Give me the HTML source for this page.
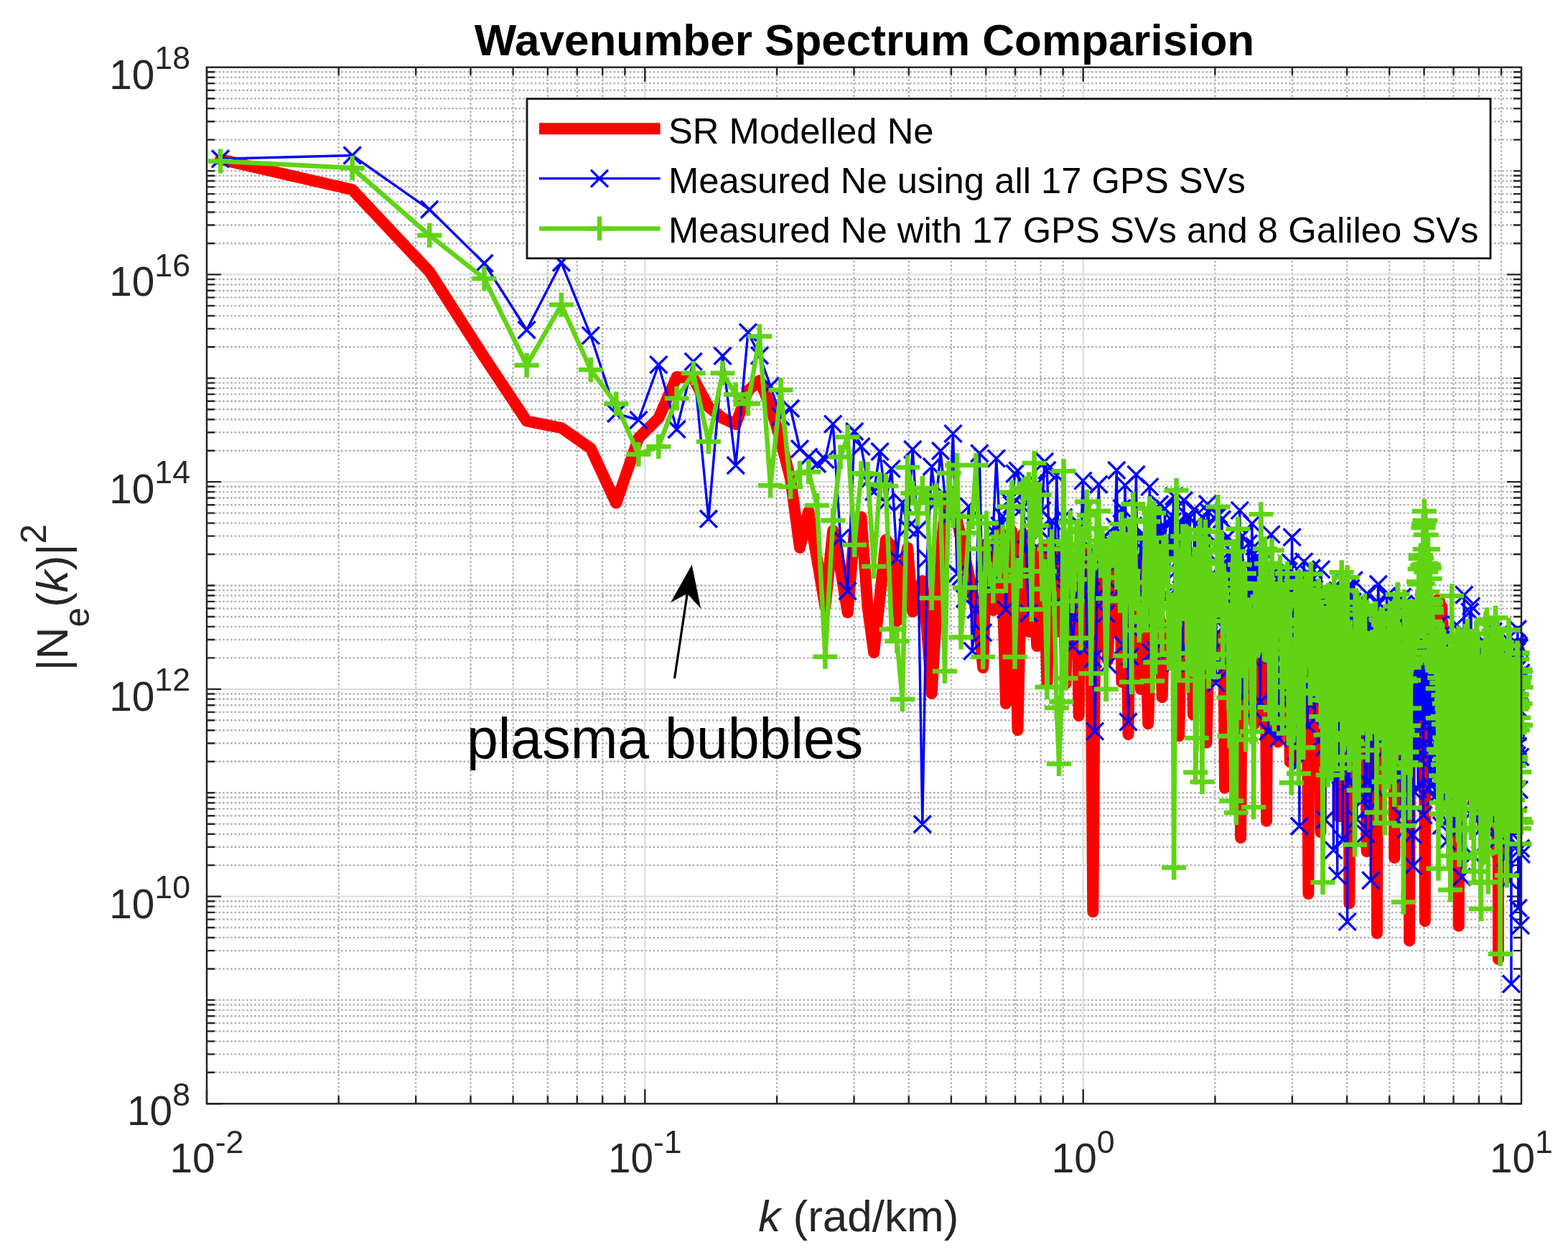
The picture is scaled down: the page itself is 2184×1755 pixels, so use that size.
<!DOCTYPE html>
<html><head><meta charset="utf-8"><title>Wavenumber Spectrum Comparision</title>
<style>html,body{margin:0;padding:0;background:#fff;width:2184px;height:1755px;overflow:hidden}svg text{white-space:pre}</style>
</head><body>
<svg width="2184" height="1755" viewBox="0 0 2184 1755" style="position:absolute;left:0;top:0">
<rect x="0" y="0" width="2184" height="1755" fill="#fff"/>
<path d="M471.7 93.7V1537.3M579.2 93.7V1537.3M655.5 93.7V1537.3M714.6 93.7V1537.3M762.9 93.7V1537.3M803.8 93.7V1537.3M839.2 93.7V1537.3M870.4 93.7V1537.3M1082.1 93.7V1537.3M1189.5 93.7V1537.3M1265.8 93.7V1537.3M1324.9 93.7V1537.3M1373.3 93.7V1537.3M1414.1 93.7V1537.3M1449.5 93.7V1537.3M1480.7 93.7V1537.3M1692.4 93.7V1537.3M1799.9 93.7V1537.3M1876.1 93.7V1537.3M1935.3 93.7V1537.3M1983.6 93.7V1537.3M2024.5 93.7V1537.3M2059.9 93.7V1537.3M2091.1 93.7V1537.3M288.0 1493.8H2119.0M288.0 1468.4H2119.0M288.0 1450.4H2119.0M288.0 1436.4H2119.0M288.0 1425.0H2119.0M288.0 1415.3H2119.0M288.0 1406.9H2119.0M288.0 1399.5H2119.0M288.0 1392.9H2119.0M288.0 1349.5H2119.0M288.0 1324.1H2119.0M288.0 1306.0H2119.0M288.0 1292.0H2119.0M288.0 1280.6H2119.0M288.0 1270.9H2119.0M288.0 1262.6H2119.0M288.0 1255.2H2119.0M288.0 1205.1H2119.0M288.0 1179.7H2119.0M288.0 1161.7H2119.0M288.0 1147.7H2119.0M288.0 1136.2H2119.0M288.0 1126.6H2119.0M288.0 1118.2H2119.0M288.0 1110.8H2119.0M288.0 1104.2H2119.0M288.0 1060.8H2119.0M288.0 1035.3H2119.0M288.0 1017.3H2119.0M288.0 1003.3H2119.0M288.0 991.9H2119.0M288.0 982.2H2119.0M288.0 973.8H2119.0M288.0 966.5H2119.0M288.0 916.4H2119.0M288.0 891.0H2119.0M288.0 872.9H2119.0M288.0 859.0H2119.0M288.0 847.5H2119.0M288.0 837.9H2119.0M288.0 829.5H2119.0M288.0 822.1H2119.0M288.0 815.5H2119.0M288.0 772.0H2119.0M288.0 746.6H2119.0M288.0 728.6H2119.0M288.0 714.6H2119.0M288.0 703.2H2119.0M288.0 693.5H2119.0M288.0 685.1H2119.0M288.0 677.7H2119.0M288.0 627.7H2119.0M288.0 602.3H2119.0M288.0 584.2H2119.0M288.0 570.2H2119.0M288.0 558.8H2119.0M288.0 549.1H2119.0M288.0 540.8H2119.0M288.0 533.4H2119.0M288.0 526.8H2119.0M288.0 483.3H2119.0M288.0 457.9H2119.0M288.0 439.9H2119.0M288.0 425.9H2119.0M288.0 414.4H2119.0M288.0 404.8H2119.0M288.0 396.4H2119.0M288.0 389.0H2119.0M288.0 339.0H2119.0M288.0 313.5H2119.0M288.0 295.5H2119.0M288.0 281.5H2119.0M288.0 270.1H2119.0M288.0 260.4H2119.0M288.0 252.0H2119.0M288.0 244.7H2119.0M288.0 238.1H2119.0M288.0 194.6H2119.0M288.0 169.2H2119.0M288.0 151.1H2119.0M288.0 137.2H2119.0M288.0 125.7H2119.0M288.0 116.1H2119.0M288.0 107.7H2119.0M288.0 100.3H2119.0" stroke="#b4b4b4" stroke-width="2.4" stroke-dasharray="2.8 2.7" fill="none"/>
<path d="M898.3 93.7V1537.3M1508.7 93.7V1537.3M288.0 1248.6H2119.0M288.0 959.9H2119.0M288.0 671.1H2119.0M288.0 382.4H2119.0" stroke="#dedede" stroke-width="2.4" fill="none"/>
<path d="M288.0 1537.3v-20M288.0 93.7v20M471.7 1537.3v-11M471.7 93.7v11M579.2 1537.3v-11M579.2 93.7v11M655.5 1537.3v-11M655.5 93.7v11M714.6 1537.3v-11M714.6 93.7v11M762.9 1537.3v-11M762.9 93.7v11M803.8 1537.3v-11M803.8 93.7v11M839.2 1537.3v-11M839.2 93.7v11M870.4 1537.3v-11M870.4 93.7v11M898.3 1537.3v-20M898.3 93.7v20M1082.1 1537.3v-11M1082.1 93.7v11M1189.5 1537.3v-11M1189.5 93.7v11M1265.8 1537.3v-11M1265.8 93.7v11M1324.9 1537.3v-11M1324.9 93.7v11M1373.3 1537.3v-11M1373.3 93.7v11M1414.1 1537.3v-11M1414.1 93.7v11M1449.5 1537.3v-11M1449.5 93.7v11M1480.7 1537.3v-11M1480.7 93.7v11M1508.7 1537.3v-20M1508.7 93.7v20M1692.4 1537.3v-11M1692.4 93.7v11M1799.9 1537.3v-11M1799.9 93.7v11M1876.1 1537.3v-11M1876.1 93.7v11M1935.3 1537.3v-11M1935.3 93.7v11M1983.6 1537.3v-11M1983.6 93.7v11M2024.5 1537.3v-11M2024.5 93.7v11M2059.9 1537.3v-11M2059.9 93.7v11M2091.1 1537.3v-11M2091.1 93.7v11M288.0 1537.3h20M2119.0 1537.3h-20M288.0 1493.8h11M2119.0 1493.8h-11M288.0 1468.4h11M2119.0 1468.4h-11M288.0 1450.4h11M2119.0 1450.4h-11M288.0 1436.4h11M2119.0 1436.4h-11M288.0 1425.0h11M2119.0 1425.0h-11M288.0 1415.3h11M2119.0 1415.3h-11M288.0 1406.9h11M2119.0 1406.9h-11M288.0 1399.5h11M2119.0 1399.5h-11M288.0 1392.9h11M2119.0 1392.9h-11M288.0 1349.5h11M2119.0 1349.5h-11M288.0 1324.1h11M2119.0 1324.1h-11M288.0 1306.0h11M2119.0 1306.0h-11M288.0 1292.0h11M2119.0 1292.0h-11M288.0 1280.6h11M2119.0 1280.6h-11M288.0 1270.9h11M2119.0 1270.9h-11M288.0 1262.6h11M2119.0 1262.6h-11M288.0 1255.2h11M2119.0 1255.2h-11M288.0 1248.6h20M2119.0 1248.6h-20M288.0 1205.1h11M2119.0 1205.1h-11M288.0 1179.7h11M2119.0 1179.7h-11M288.0 1161.7h11M2119.0 1161.7h-11M288.0 1147.7h11M2119.0 1147.7h-11M288.0 1136.2h11M2119.0 1136.2h-11M288.0 1126.6h11M2119.0 1126.6h-11M288.0 1118.2h11M2119.0 1118.2h-11M288.0 1110.8h11M2119.0 1110.8h-11M288.0 1104.2h11M2119.0 1104.2h-11M288.0 1060.8h11M2119.0 1060.8h-11M288.0 1035.3h11M2119.0 1035.3h-11M288.0 1017.3h11M2119.0 1017.3h-11M288.0 1003.3h11M2119.0 1003.3h-11M288.0 991.9h11M2119.0 991.9h-11M288.0 982.2h11M2119.0 982.2h-11M288.0 973.8h11M2119.0 973.8h-11M288.0 966.5h11M2119.0 966.5h-11M288.0 959.9h20M2119.0 959.9h-20M288.0 916.4h11M2119.0 916.4h-11M288.0 891.0h11M2119.0 891.0h-11M288.0 872.9h11M2119.0 872.9h-11M288.0 859.0h11M2119.0 859.0h-11M288.0 847.5h11M2119.0 847.5h-11M288.0 837.9h11M2119.0 837.9h-11M288.0 829.5h11M2119.0 829.5h-11M288.0 822.1h11M2119.0 822.1h-11M288.0 815.5h11M2119.0 815.5h-11M288.0 772.0h11M2119.0 772.0h-11M288.0 746.6h11M2119.0 746.6h-11M288.0 728.6h11M2119.0 728.6h-11M288.0 714.6h11M2119.0 714.6h-11M288.0 703.2h11M2119.0 703.2h-11M288.0 693.5h11M2119.0 693.5h-11M288.0 685.1h11M2119.0 685.1h-11M288.0 677.7h11M2119.0 677.7h-11M288.0 671.1h20M2119.0 671.1h-20M288.0 627.7h11M2119.0 627.7h-11M288.0 602.3h11M2119.0 602.3h-11M288.0 584.2h11M2119.0 584.2h-11M288.0 570.2h11M2119.0 570.2h-11M288.0 558.8h11M2119.0 558.8h-11M288.0 549.1h11M2119.0 549.1h-11M288.0 540.8h11M2119.0 540.8h-11M288.0 533.4h11M2119.0 533.4h-11M288.0 526.8h11M2119.0 526.8h-11M288.0 483.3h11M2119.0 483.3h-11M288.0 457.9h11M2119.0 457.9h-11M288.0 439.9h11M2119.0 439.9h-11M288.0 425.9h11M2119.0 425.9h-11M288.0 414.4h11M2119.0 414.4h-11M288.0 404.8h11M2119.0 404.8h-11M288.0 396.4h11M2119.0 396.4h-11M288.0 389.0h11M2119.0 389.0h-11M288.0 382.4h20M2119.0 382.4h-20M288.0 339.0h11M2119.0 339.0h-11M288.0 313.5h11M2119.0 313.5h-11M288.0 295.5h11M2119.0 295.5h-11M288.0 281.5h11M2119.0 281.5h-11M288.0 270.1h11M2119.0 270.1h-11M288.0 260.4h11M2119.0 260.4h-11M288.0 252.0h11M2119.0 252.0h-11M288.0 244.7h11M2119.0 244.7h-11M288.0 238.1h11M2119.0 238.1h-11M288.0 194.6h11M2119.0 194.6h-11M288.0 169.2h11M2119.0 169.2h-11M288.0 151.1h11M2119.0 151.1h-11M288.0 137.2h11M2119.0 137.2h-11M288.0 125.7h11M2119.0 125.7h-11M288.0 116.1h11M2119.0 116.1h-11M288.0 107.7h11M2119.0 107.7h-11M288.0 100.3h11M2119.0 100.3h-11" stroke="#262626" stroke-width="2.4" fill="none"/>
<defs><clipPath id="ax"><rect x="288" y="93.7" width="1831" height="1443.6"/></clipPath></defs>
<g clip-path="url(#ax)">
<polyline points="307.0,222.0 490.7,264.2 598.2,378.5 674.5,497.6 733.6,586.5 781.9,596.0 822.8,624.6 858.2,700.8 889.4,610.0 917.3,582.4 942.6,525.0 965.7,527.0 986.9,566.8 1006.5,582.4 1024.8,591.0 1041.9,544.0 1058.0,530.0 1073.1,566.0 1087.5,614.0 1101.1,667.0 1114.0,763.0 1126.3,712.0 1138.1,779.0 1149.4,845.0 1160.2,739.0 1170.6,792.0 1180.6,853.0 1190.2,739.0 1199.5,720.0 1208.5,845.0 1217.2,909.0 1225.6,832.0 1233.8,752.0 1241.7,760.0 1249.4,865.0 1256.9,800.0 1264.1,763.0 1271.2,852.0 1278.1,830.0 1284.8,809.0 1291.3,880.0 1297.7,966.0 1304.0,860.0 1310.1,770.0 1316.0,715.0 1321.8,690.0 1327.5,705.0 1333.1,725.0 1338.6,750.0 1343.9,775.0 1349.2,800.0 1354.3,825.0 1359.4,850.0 1364.3,880.0 1369.2,930.0 1374.0,757.3 1378.7,769.2 1383.3,850.0 1387.8,779.2 1392.3,736.3 1396.6,818.3 1401.0,980.0 1405.2,826.3 1409.4,739.9 1413.5,835.3 1417.5,1017.0 1421.5,833.1 1425.4,743.5 1429.3,783.2 1433.1,880.0 1436.9,782.9 1440.6,770.3 1444.2,900.0 1447.9,797.4 1451.4,762.1 1454.9,813.7 1458.4,952.0 1461.8,805.5 1465.2,753.4 1468.5,795.5 1471.8,880.0 1475.1,802.8 1478.3,767.0 1481.4,818.0 1484.6,952.0 1487.7,783.1 1490.8,792.2 1493.8,900.0 1496.8,778.1 1499.7,805.7 1502.7,997.0 1505.6,801.2 1508.4,787.7 1511.3,880.0 1514.1,802.2 1516.8,765.3 1519.6,900.0 1522.3,1270.0 1525.0,900.0 1527.7,770.7 1530.3,803.6 1532.9,900.0 1535.5,808.5 1538.1,793.2 1540.6,826.5 1543.1,920.0 1545.6,824.8 1548.1,780.8 1550.5,819.3 1552.9,880.0 1555.3,808.6 1557.7,791.0 1560.1,825.0 1562.4,950.0 1564.7,839.5 1567.0,804.4 1569.3,863.4 1571.5,1023.0 1573.8,851.1 1576.0,796.1 1578.2,830.1 1580.4,930.0 1582.5,844.0 1584.7,782.1 1586.8,834.7 1588.9,960.0 1591.0,837.6 1593.1,795.0 1595.2,849.5 1597.2,940.0 1599.2,1008.1 1601.3,934.8 1603.3,889.3 1605.2,879.8 1607.2,866.3 1609.2,871.7 1611.1,888.9 1613.0,872.3 1615.0,861.3 1616.9,911.5 1618.7,971.3 1620.6,901.5 1622.5,881.8 1624.3,870.4 1626.2,895.4 1628.0,875.3 1629.8,881.7 1631.6,882.3 1633.4,861.1 1635.1,889.6 1636.9,871.0 1638.6,863.3 1640.4,916.7 1642.1,1025.3 1643.8,951.6 1645.5,899.2 1647.2,894.3 1648.9,875.1 1650.6,884.1 1652.2,869.4 1653.9,876.8 1655.5,902.8 1657.2,887.3 1658.8,877.5 1660.4,909.8 1662.0,995.6 1663.6,946.1 1665.2,872.0 1666.8,870.3 1668.3,873.7 1669.9,899.8 1671.4,907.4 1673.0,874.3 1674.5,892.0 1676.0,871.5 1677.5,899.5 1679.0,941.9 1680.5,1034.6 1682.0,972.2 1683.5,913.4 1684.9,899.4 1686.4,878.9 1687.8,887.4 1689.3,900.3 1690.7,910.4 1692.2,892.8 1693.6,890.8 1695.0,901.0 1696.4,911.3 1697.8,896.5 1699.2,892.3 1700.6,916.2 1701.9,911.3 1703.3,885.3 1704.7,935.1 1706.0,1097.7 1707.4,956.7 1708.7,897.5 1710.1,887.4 1711.4,894.8 1712.7,908.9 1714.0,914.6 1715.3,895.4 1716.6,904.1 1717.9,912.7 1719.2,908.0 1720.5,907.1 1721.8,916.7 1723.1,922.4 1724.3,920.9 1725.6,896.1 1726.8,966.6 1728.1,1167.1 1729.3,985.3 1730.6,918.8 1731.8,899.7 1733.0,917.2 1734.2,911.4 1735.4,927.8 1736.7,893.2 1737.9,921.9 1739.1,898.9 1740.2,900.0 1741.4,905.3 1742.6,909.5 1743.8,896.7 1745.0,908.4 1746.1,930.1 1747.3,1008.5 1748.4,947.5 1749.6,913.7 1750.7,907.9 1751.9,912.4 1753.0,900.3 1754.1,902.1 1755.3,904.3 1756.4,934.0 1757.5,914.4 1758.6,922.9 1759.7,903.0 1760.8,916.0 1761.9,913.1 1763.0,976.2 1764.1,1143.7 1765.2,978.4 1766.3,906.5 1767.3,926.7 1768.4,927.2 1769.5,932.5 1770.5,911.5 1771.6,919.1 1772.7,927.7 1773.7,921.4 1774.7,933.7 1775.8,920.2 1776.8,915.6 1777.9,918.3 1778.9,975.2 1779.9,1033.6 1780.9,943.9 1782.0,903.4 1783.0,939.2 1784.0,921.4 1785.0,918.7 1786.0,908.7 1787.0,923.0 1788.0,929.8 1789.0,908.6 1790.0,934.0 1790.9,916.2 1791.9,932.9 1792.9,936.6 1793.9,943.4 1794.8,912.0 1795.8,963.4 1796.8,1061.4 1797.7,971.0 1798.7,939.0 1799.6,924.0 1800.6,924.2 1801.5,940.7 1802.5,912.2 1803.4,912.0 1804.3,911.6 1805.3,928.6 1806.2,916.9 1807.1,923.1 1808.0,928.8 1809.0,930.5 1809.9,925.2 1810.8,915.3 1811.7,942.8 1812.6,945.0 1813.5,933.2 1814.4,922.4 1815.3,951.1 1816.2,921.8 1817.1,935.3 1818.0,934.0 1818.9,912.6 1819.7,931.0 1820.6,943.7 1821.5,1071.8 1822.4,1245.0 1823.2,1008.3 1824.1,922.2 1825.0,941.8 1825.8,915.3 1826.7,942.1 1827.6,936.1 1828.4,930.3 1829.3,932.0 1830.1,934.6 1831.0,932.5 1831.8,942.5 1832.6,920.3 1833.5,951.6 1834.3,944.5 1835.1,927.1 1836.0,953.3 1836.8,952.5 1837.6,936.1 1838.4,1003.3 1839.3,1159.1 1840.1,1053.2 1840.9,918.8 1841.7,956.9 1842.5,957.6 1843.3,922.6 1844.1,957.3 1844.9,931.1 1845.7,933.7 1846.5,958.5 1847.3,951.8 1848.1,948.8 1848.9,930.3 1849.7,950.5 1850.5,923.0 1851.3,932.2 1852.0,931.8 1852.8,924.4 1853.6,941.1 1854.4,923.9 1855.1,962.1 1855.9,942.5 1856.7,954.1 1857.4,944.6 1858.2,928.6 1859.0,941.9 1859.7,924.4 1860.5,936.3 1861.2,949.9 1862.0,932.0 1862.7,961.6 1863.5,950.6 1864.2,981.8 1865.0,1137.4 1865.7,1014.0 1866.5,961.9 1867.2,936.5 1867.9,931.3 1868.7,937.8 1869.4,946.3 1870.1,942.9 1870.8,937.1 1871.6,946.2 1872.3,967.7 1873.0,953.3 1873.7,931.3 1874.5,934.4 1875.2,940.6 1875.9,966.4 1876.6,931.6 1877.3,955.2 1878.0,945.6 1878.7,1038.1 1879.4,1258.4 1880.1,1088.3 1880.8,960.5 1881.5,961.2 1882.2,939.2 1882.9,938.4 1883.6,938.5 1884.3,939.9 1885.0,939.8 1885.7,952.2 1886.4,944.1 1887.0,956.4 1887.7,970.6 1888.4,963.6 1889.1,935.7 1889.8,970.0 1890.4,947.9 1891.1,939.6 1891.8,942.5 1892.5,935.1 1893.1,971.7 1893.8,950.2 1894.5,954.8 1895.1,946.2 1895.8,969.8 1896.4,968.0 1897.1,953.2 1897.8,934.1 1898.4,960.6 1899.1,947.8 1899.7,940.1 1900.4,953.2 1901.0,964.0 1901.7,961.4 1902.3,939.1 1903.0,1083.5 1903.6,1186.0 1904.2,1043.1 1904.9,972.0 1905.5,952.7 1906.2,972.3 1906.8,969.9 1907.4,937.8 1908.1,971.9 1908.7,963.8 1909.3,960.0 1909.9,937.0 1910.6,971.6 1911.2,952.9 1911.8,939.8 1912.4,966.9 1913.1,952.3 1913.7,950.9 1914.3,964.8 1914.9,939.6 1915.5,939.4 1916.1,977.3 1916.7,973.3 1917.4,1133.7 1918.0,1300.0 1918.6,1090.0 1919.2,954.6 1919.8,946.5 1920.4,940.6 1921.0,971.2 1921.6,949.7 1922.2,969.7 1922.8,942.2 1923.4,949.8 1924.0,957.3 1924.6,955.3 1925.2,948.7 1925.8,971.6 1926.3,943.5 1926.9,965.3 1927.5,963.4 1928.1,961.9 1928.7,948.5 1929.3,967.3 1929.9,970.2 1930.4,964.3 1931.0,965.0 1931.6,963.7 1932.2,959.4 1932.7,965.2 1933.3,962.9 1933.9,946.4 1934.5,967.6 1935.0,976.9 1935.6,947.3 1936.2,944.1 1936.7,955.8 1937.3,954.1 1937.9,949.5 1938.4,954.6 1939.0,960.6 1939.6,952.6 1940.1,965.1 1940.7,960.3 1941.2,959.9 1941.8,1016.7 1942.3,1194.9 1942.9,1077.8 1943.4,969.4 1944.0,967.0 1944.6,957.3 1945.1,984.9 1945.6,974.4 1946.2,978.5 1946.7,967.7 1947.3,970.2 1947.8,973.3 1948.4,957.0 1948.9,956.1 1949.5,976.7 1950.0,958.7 1950.5,947.3 1951.1,964.8 1951.6,969.0 1952.1,982.7 1952.7,952.8 1953.2,954.2 1953.7,947.7 1954.3,961.3 1954.8,952.4 1955.3,970.3 1955.9,960.8 1956.4,951.2 1956.9,976.8 1957.4,978.1 1958.0,984.3 1958.5,962.3 1959.0,969.9 1959.5,973.9 1960.0,983.5 1960.6,986.3 1961.1,962.0 1961.6,957.4 1962.1,959.9 1962.6,1069.6 1963.1,1310.4 1963.6,1140.8 1964.2,974.2 1964.7,954.3 1965.2,974.6 1965.7,976.2 1966.2,969.6 1966.7,979.4 1967.2,952.9 1967.7,977.8 1968.2,952.6 1968.7,984.6 1969.2,971.9 1969.7,984.3 1970.2,956.6 1970.7,958.9 1971.2,984.4 1971.7,954.7 1972.2,964.1 1972.7,982.6 1973.2,985.6 1973.7,957.2 1974.2,954.3 1974.7,976.9 1975.2,960.7 1975.6,963.8 1976.1,954.3 1976.6,966.4 1977.1,984.9 1977.6,975.5 1978.1,953.8 1978.6,959.7 1979.0,977.5 1979.5,984.8 1980.0,986.0 1980.5,979.0 1981.0,958.9 1981.5,987.3 1981.9,980.3 1982.4,986.5 1982.9,972.6 1983.4,988.5 1983.8,986.0 1984.3,1073.4 1984.8,1283.2 1985.3,1051.4 1985.7,979.2 1986.2,962.7 1986.7,968.3 1987.1,963.7 1987.6,970.4 1988.1,969.0 1988.5,983.0 1989.0,979.4 1989.5,962.0 1989.9,981.4 1990.4,985.5 1990.9,973.6 1991.3,957.0 1991.8,987.5 1992.2,984.7 1992.7,986.3 1993.2,981.4 1993.6,961.9 1994.1,969.9 1994.5,958.1 1995.0,992.1 1995.4,987.9 1995.9,852.7 1996.3,857.7 1996.8,871.3 1997.2,845.2 1997.7,858.6 1998.1,849.4 1998.6,865.3 1999.0,856.7 1999.5,843.1 1999.9,855.6 2000.4,844.7 2000.8,837.0 2001.3,839.5 2001.7,848.7 2002.2,835.6 2002.6,865.9 2003.0,867.1 2003.5,835.8 2003.9,856.0 2004.4,852.3 2004.8,851.0 2005.2,837.9 2005.7,872.6 2006.1,846.9 2006.5,872.3 2007.0,851.1 2007.4,843.4 2007.8,845.0 2008.3,844.9 2008.7,867.2 2009.1,868.2 2009.6,867.3 2010.0,992.3 2010.4,987.2 2010.9,981.9 2011.3,987.9 2011.7,960.6 2012.1,988.8 2012.6,981.1 2013.0,994.5 2013.4,967.8 2013.8,976.7 2014.3,999.8 2014.7,973.5 2015.1,988.5 2015.5,998.0 2015.9,982.9 2016.4,981.9 2016.8,982.2 2017.2,971.7 2017.6,982.2 2018.0,990.5 2018.5,981.8 2018.9,974.9 2019.3,977.9 2019.7,1004.2 2020.1,1091.4 2020.5,1000.3 2020.9,999.6 2021.4,977.6 2021.8,991.6 2022.2,989.4 2022.6,973.7 2023.0,975.1 2023.4,988.9 2023.8,982.9 2024.2,989.3 2024.6,986.3 2025.0,981.4 2025.4,965.9 2025.8,984.7 2026.2,1001.6 2026.7,993.4 2027.1,974.5 2027.5,984.2 2027.9,968.1 2028.3,991.1 2028.7,979.3 2029.1,987.8 2029.5,1003.3 2029.9,988.9 2030.3,996.6 2030.7,964.8 2031.1,977.5 2031.4,1113.8 2031.8,1289.8 2032.2,1065.4 2032.6,987.0 2033.0,978.9 2033.4,984.1 2033.8,968.8 2034.2,994.2 2034.6,975.9 2035.0,978.9 2035.4,972.2 2035.8,975.9 2036.2,971.8 2036.6,1005.7 2036.9,998.5 2037.3,996.3 2037.7,969.7 2038.1,976.5 2038.5,1003.2 2038.9,1002.3 2039.3,973.8 2039.6,990.4 2040.0,993.7 2040.4,983.5 2040.8,980.2 2041.2,977.3 2041.6,995.6 2041.9,980.3 2042.3,996.2 2042.7,968.4 2043.1,988.9 2043.5,1002.9 2043.8,972.7 2044.2,967.9 2044.6,997.0 2045.0,975.6 2045.3,990.6 2045.7,968.8 2046.1,979.9 2046.5,986.5 2046.8,989.0 2047.2,981.3 2047.6,994.8 2048.0,998.6 2048.3,973.0 2048.7,1005.3 2049.1,983.2 2049.4,993.2 2049.8,1005.8 2050.2,996.7 2050.6,986.3 2050.9,999.6 2051.3,982.5 2051.7,970.6 2052.0,1047.3 2052.4,1118.1 2052.8,1032.2 2053.1,1003.8 2053.5,971.1 2053.9,998.7 2054.2,988.0 2054.6,971.6 2054.9,986.4 2055.3,1002.7 2055.7,1005.9 2056.0,996.0 2056.4,999.0 2056.7,1006.1 2057.1,1008.3 2057.5,991.4 2057.8,972.3 2058.2,997.2 2058.5,973.0 2058.9,995.5 2059.3,975.1 2059.6,997.2 2060.0,1001.0 2060.3,1008.4 2060.7,989.5 2061.0,1010.3 2061.4,980.0 2061.7,994.6 2062.1,981.3 2062.4,986.6 2062.8,982.1 2063.2,1011.7 2063.5,1010.2 2063.9,995.2 2064.2,975.4 2064.6,981.1 2064.9,1032.5 2065.3,1156.1 2065.6,1041.2 2066.0,990.6 2066.3,988.5 2066.6,990.9 2067.0,1005.1 2067.3,990.2 2067.7,994.0 2068.0,992.4 2068.4,983.6 2068.7,997.1 2069.1,980.3 2069.4,977.9 2069.7,996.8 2070.1,1001.6 2070.4,978.1 2070.8,993.9 2071.1,978.7 2071.5,987.7 2071.8,1000.4 2072.1,1000.8 2072.5,991.1 2072.8,1011.9 2073.2,984.1 2073.5,1011.1 2073.8,998.6 2074.2,1012.4 2074.5,988.1 2074.8,1008.5 2075.2,988.5 2075.5,1002.9 2075.9,1004.8 2076.2,1008.2 2076.5,1000.3 2076.9,992.7 2077.2,975.4 2077.5,1004.3 2077.9,998.5 2078.2,980.0 2078.5,1003.5 2078.8,991.0 2079.2,1002.1 2079.5,994.0 2079.8,1007.9 2080.2,1005.1 2080.5,1011.5 2080.8,1011.5 2081.2,976.3 2081.5,1000.9 2081.8,1015.7 2082.1,977.4 2082.5,1007.0 2082.8,987.7 2083.1,999.1 2083.4,980.0 2083.8,1002.9 2084.1,1011.1 2084.4,1007.0 2084.7,1088.3 2085.1,1191.0 2085.4,1102.7 2085.7,1000.0 2086.0,986.2 2086.4,998.6 2086.7,1010.3 2087.0,1336.0 2087.3,994.3 2087.6,1010.5 2088.0,980.1 2088.3,980.0 2088.6,991.8 2088.9,1012.0 2089.2,982.8 2089.6,1000.2 2089.9,1005.2 2090.2,980.5 2090.5,1012.2 2090.8,1009.9 2091.2,979.6 2091.5,997.3 2091.8,995.5 2092.1,1008.6 2092.4,980.0 2092.7,992.7 2093.0,981.0 2093.4,999.6 2093.7,982.0 2094.0,1011.4 2094.3,992.3 2094.6,979.5 2094.9,991.3 2095.2,1000.9 2095.5,987.9 2095.9,985.2 2096.2,1010.7 2096.5,1002.6 2096.8,981.2 2097.1,1007.5 2097.4,983.3 2097.7,1011.8 2098.0,1013.2 2098.3,991.3 2098.6,980.7 2098.9,1001.9 2099.2,996.1 2099.6,981.6 2099.9,1018.5 2100.2,984.5 2100.5,998.8 2100.8,990.9 2101.1,1005.5 2101.4,989.9 2101.7,983.2 2102.0,1001.3 2102.3,991.1 2102.6,1007.4 2102.9,992.9 2103.2,1017.2 2103.5,1004.4 2103.8,1001.4 2104.1,1000.6 2104.4,1004.4 2104.7,1003.5 2105.0,1002.8 2105.3,989.4 2105.6,1012.8 2105.9,997.3 2106.2,991.5 2106.5,1006.5 2106.8,1062.5 2107.1,1140.9 2107.4,1046.9 2107.7,1010.6 2108.0,990.4 2108.3,984.1 2108.6,991.2 2108.9,1012.9 2109.2,987.5 2109.5,1008.7 2109.8,1005.5 2110.1,1006.2 2110.4,996.1 2110.7,999.5 2111.0,1016.1 2111.2,998.9 2111.5,985.6 2111.8,1001.8 2112.1,986.0 2112.4,989.4 2112.7,992.8 2113.0,1003.8 2113.3,1005.3 2113.6,1000.0 2113.9,985.5 2114.2,988.9 2114.5,1007.3 2114.7,984.3 2115.0,1014.8 2115.3,1007.9 2115.6,1006.3 2115.9,1020.2 2116.2,989.3 2116.5,1008.6 2116.8,1000.9 2117.0,1015.2 2117.3,1008.7 2117.6,1007.2 2117.9,1001.3 2118.2,1020.2 2118.5,1007.2 2118.8,993.7" fill="none" stroke="#ff0000" stroke-width="16" stroke-linejoin="round" stroke-linecap="round"/>
<polyline points="307.0,221.3 490.7,216.5 598.2,291.8 674.5,366.7 733.6,459.5 781.9,365.8 822.8,467.4 858.2,576.0 889.4,585.0 917.3,508.0 942.6,598.0 965.7,503.6 986.9,722.7 1006.5,495.8 1024.8,648.3 1041.9,463.0 1058.0,495.3 1073.1,537.7 1087.5,580.2 1101.1,569.0 1114.0,625.2 1126.3,636.5 1138.1,646.0 1149.4,640.0 1160.2,590.6 1170.6,749.4 1180.6,823.3 1190.2,601.0 1199.5,622.0 1208.5,670.0 1217.2,685.0 1225.6,629.0 1233.8,700.0 1241.7,653.0 1249.4,778.0 1256.9,700.0 1264.1,735.0 1271.2,626.0 1278.1,738.0 1284.8,1148.0 1291.3,778.0 1297.7,650.0 1304.0,700.0 1310.1,628.0 1316.0,690.0 1321.8,720.0 1327.5,604.0 1333.1,799.0 1338.6,803.3 1343.9,834.0 1349.2,705.4 1354.3,906.8 1359.4,849.0 1364.3,631.5 1369.2,881.3 1374.0,821.1 1378.7,794.5 1383.3,740.0 1387.8,638.6 1392.3,732.2 1396.6,719.1 1401.0,848.9 1405.2,697.3 1409.4,703.0 1413.5,659.8 1417.5,655.6 1421.5,689.4 1425.4,706.4 1429.3,765.2 1433.1,854.0 1436.9,754.1 1440.6,732.7 1444.2,673.9 1447.9,737.7 1451.4,711.3 1454.9,643.0 1458.4,655.0 1461.8,774.6 1465.2,725.7 1468.5,801.0 1471.8,662.0 1475.1,777.9 1478.3,798.1 1481.4,720.6 1484.6,826.4 1487.7,767.2 1490.8,854.9 1493.8,900.0 1496.8,860.0 1499.7,798.0 1502.7,729.7 1505.6,749.9 1508.4,669.6 1511.3,776.9 1514.1,900.0 1516.8,813.1 1519.6,823.7 1522.3,917.7 1525.0,1018.6 1527.7,830.5 1530.3,674.7 1532.9,779.8 1535.5,749.7 1538.1,835.9 1540.6,854.8 1543.1,925.7 1545.6,754.6 1548.1,777.3 1550.5,790.3 1552.9,733.9 1555.3,655.0 1557.7,823.6 1560.1,747.1 1562.4,708.0 1564.7,898.8 1567.0,675.9 1569.3,779.0 1571.5,1005.6 1573.8,914.7 1576.0,877.4 1578.2,732.2 1580.4,754.2 1582.5,661.0 1584.7,845.9 1586.8,826.2 1588.9,746.7 1591.0,776.9 1593.1,744.8 1595.2,835.6 1597.2,771.0 1599.2,864.7 1601.3,678.1 1603.3,909.0 1605.2,865.8 1607.2,748.3 1609.2,905.2 1611.1,722.9 1613.0,749.5 1615.0,702.5 1616.9,739.8 1618.7,767.1 1620.6,830.1 1622.5,708.5 1624.3,809.4 1626.2,763.0 1628.0,830.2 1629.8,722.3 1631.6,772.0 1633.4,726.1 1635.1,691.3 1636.9,923.8 1638.6,735.1 1640.4,781.8 1642.1,726.8 1643.8,759.3 1645.5,821.5 1647.2,904.5 1648.9,697.0 1650.6,795.5 1652.2,826.1 1653.9,718.9 1655.5,851.7 1657.2,720.9 1658.8,777.5 1660.4,916.8 1662.0,909.1 1663.6,709.4 1665.2,770.6 1666.8,876.2 1668.3,798.9 1669.9,912.2 1671.4,872.1 1673.0,901.3 1674.5,719.9 1676.0,783.9 1677.5,922.6 1679.0,906.2 1680.5,875.7 1682.0,702.1 1683.5,713.5 1684.9,772.6 1686.4,910.2 1687.8,850.9 1689.3,798.7 1690.7,861.3 1692.2,862.4 1693.6,951.4 1695.0,716.9 1696.4,758.1 1697.8,717.4 1699.2,833.4 1700.6,834.5 1701.9,723.5 1703.3,825.1 1704.7,872.3 1706.0,782.2 1707.4,927.2 1708.7,833.9 1710.1,747.8 1711.4,813.1 1712.7,930.7 1714.0,767.4 1715.3,854.1 1716.6,776.9 1717.9,886.3 1719.2,817.3 1720.5,790.6 1721.8,805.4 1723.1,898.6 1724.3,915.7 1725.6,846.8 1726.8,710.9 1728.1,939.8 1729.3,838.0 1730.6,746.5 1731.8,971.3 1733.0,825.7 1734.2,886.2 1735.4,862.3 1736.7,826.5 1737.9,885.8 1739.1,757.1 1740.2,841.2 1741.4,794.1 1742.6,915.0 1743.8,729.4 1745.0,824.7 1746.1,989.9 1747.3,761.0 1748.4,777.7 1749.6,786.9 1750.7,848.2 1751.9,776.9 1753.0,822.1 1754.1,812.7 1755.3,977.8 1756.4,863.8 1757.5,862.0 1758.6,822.8 1759.7,783.1 1760.8,833.8 1761.9,836.6 1763.0,878.2 1764.1,899.8 1765.2,867.2 1766.3,1018.8 1767.3,876.3 1768.4,817.8 1769.5,848.4 1770.5,744.4 1771.6,912.0 1772.7,799.0 1773.7,851.1 1774.7,839.1 1775.8,879.4 1776.8,926.7 1777.9,838.7 1778.9,815.0 1779.9,863.3 1780.9,1028.1 1782.0,972.1 1783.0,836.0 1784.0,807.4 1785.0,1013.3 1786.0,821.5 1787.0,813.8 1788.0,934.4 1789.0,819.0 1790.0,860.1 1790.9,830.8 1791.9,793.6 1792.9,956.3 1793.9,975.8 1794.8,795.8 1795.8,928.8 1796.8,871.1 1797.7,783.6 1798.7,843.1 1799.6,748.3 1800.6,1025.4 1801.5,999.7 1802.5,904.7 1803.4,847.3 1804.3,1007.0 1805.3,1067.6 1806.2,917.6 1807.1,904.5 1808.0,810.7 1809.0,917.1 1809.9,1150.7 1810.8,979.2 1811.7,924.7 1812.6,857.5 1813.5,850.6 1814.4,825.9 1815.3,873.5 1816.2,782.4 1817.1,934.4 1818.0,975.3 1818.9,881.7 1819.7,921.7 1820.6,829.4 1821.5,1010.7 1822.4,874.6 1823.2,799.7 1824.1,891.3 1825.0,910.1 1825.8,955.0 1826.7,791.5 1827.6,876.5 1828.4,806.9 1829.3,815.6 1830.1,821.1 1831.0,1002.9 1831.8,975.3 1832.6,849.2 1833.5,934.8 1834.3,948.8 1835.1,858.2 1836.0,894.4 1836.8,930.7 1837.6,928.1 1838.4,937.0 1839.3,1029.3 1840.1,793.1 1840.9,859.7 1841.7,966.9 1842.5,951.9 1843.3,872.8 1844.1,898.3 1844.9,1040.9 1845.7,1141.7 1846.5,909.9 1847.3,837.5 1848.1,883.1 1848.9,878.0 1849.7,873.5 1850.5,890.7 1851.3,905.0 1852.0,883.4 1852.8,970.8 1853.6,953.3 1854.4,990.4 1855.1,1056.2 1855.9,831.7 1856.7,921.1 1857.4,1184.1 1858.2,937.9 1859.0,861.4 1859.7,958.9 1860.5,959.2 1861.2,860.5 1862.0,1018.6 1862.7,1219.6 1863.5,822.8 1864.2,981.4 1865.0,896.9 1865.7,893.2 1866.5,981.9 1867.2,1079.2 1867.9,1047.8 1868.7,807.4 1869.4,927.0 1870.1,1169.1 1870.8,918.8 1871.6,878.1 1872.3,907.0 1873.0,871.3 1873.7,823.9 1874.5,872.2 1875.2,970.4 1875.9,941.5 1876.6,1283.9 1877.3,902.7 1878.0,892.0 1878.7,882.6 1879.4,1089.5 1880.1,865.9 1880.8,875.8 1881.5,819.2 1882.2,942.4 1882.9,896.2 1883.6,838.3 1884.3,959.4 1885.0,990.4 1885.7,808.3 1886.4,869.9 1887.0,889.3 1887.7,900.0 1888.4,903.1 1889.1,928.0 1889.8,1141.0 1890.4,920.9 1891.1,879.1 1891.8,838.3 1892.5,986.5 1893.1,990.1 1893.8,896.3 1894.5,1041.1 1895.1,870.1 1895.8,1033.1 1896.4,925.0 1897.1,841.0 1897.8,964.0 1898.4,995.5 1899.1,895.4 1899.7,871.6 1900.4,905.0 1901.0,1111.6 1901.7,957.9 1902.3,1161.5 1903.0,878.9 1903.6,1088.8 1904.2,826.8 1904.9,924.3 1905.5,982.4 1906.2,875.2 1906.8,910.0 1907.4,900.9 1908.1,1127.2 1908.7,912.9 1909.3,1226.3 1909.9,1009.3 1910.6,871.0 1911.2,886.2 1911.8,944.3 1912.4,1021.3 1913.1,887.1 1913.7,1095.7 1914.3,878.9 1914.9,892.6 1915.5,983.9 1916.1,890.8 1916.7,925.7 1917.4,879.7 1918.0,940.7 1918.6,992.4 1919.2,838.7 1919.8,813.7 1920.4,858.8 1921.0,994.7 1921.6,874.0 1922.2,931.5 1922.8,954.2 1923.4,882.9 1924.0,993.3 1924.6,1020.7 1925.2,978.7 1925.8,916.4 1926.3,905.2 1926.9,1005.6 1927.5,903.5 1928.1,883.6 1928.7,1006.5 1929.3,927.2 1929.9,1043.4 1930.4,964.3 1931.0,900.9 1931.6,830.3 1932.2,896.0 1932.7,983.2 1933.3,911.9 1933.9,965.0 1934.5,1040.1 1935.0,883.7 1935.6,876.2 1936.2,908.8 1936.7,985.3 1937.3,940.6 1937.9,906.1 1938.4,955.2 1939.0,913.0 1939.6,893.8 1940.1,958.5 1940.7,910.0 1941.2,998.3 1941.8,922.2 1942.3,941.8 1942.9,872.1 1943.4,995.6 1944.0,1011.3 1944.6,928.6 1945.1,954.4 1945.6,885.0 1946.2,925.7 1946.7,964.8 1947.3,841.1 1947.8,963.4 1948.4,926.7 1948.9,901.4 1949.5,909.7 1950.0,883.8 1950.5,955.4 1951.1,915.5 1951.6,1136.2 1952.1,904.0 1952.7,979.0 1953.2,831.5 1953.7,1081.7 1954.3,863.2 1954.8,841.4 1955.3,968.7 1955.9,1017.8 1956.4,1001.9 1956.9,1067.0 1957.4,1019.5 1958.0,1007.6 1958.5,1154.7 1959.0,894.2 1959.5,961.9 1960.0,964.1 1960.6,951.4 1961.1,867.8 1961.6,901.3 1962.1,975.3 1962.6,950.2 1963.1,1013.0 1963.6,1045.2 1964.2,1011.3 1964.7,908.9 1965.2,964.1 1965.7,1045.9 1966.2,1005.7 1966.7,961.1 1967.2,930.1 1967.7,1162.5 1968.2,1206.0 1968.7,1101.5 1969.2,954.4 1969.7,1030.6 1970.2,883.9 1970.7,907.7 1971.2,1022.9 1971.7,850.2 1972.2,1029.0 1972.7,956.6 1973.2,898.5 1973.7,947.9 1974.2,1043.3 1974.7,1054.0 1975.2,1099.1 1975.6,975.8 1976.1,918.2 1976.6,850.8 1977.1,927.3 1977.6,951.2 1978.1,842.9 1978.6,947.5 1979.0,898.7 1979.5,982.7 1980.0,1000.4 1980.5,941.1 1981.0,987.7 1981.5,903.1 1981.9,932.6 1982.4,1135.2 1982.9,919.9 1983.4,839.5 1983.8,951.0 1984.3,874.5 1984.8,970.1 1985.3,875.8 1985.7,950.7 1986.2,975.8 1986.7,990.8 1987.1,887.0 1987.6,1005.4 1988.1,917.7 1988.5,892.2 1989.0,949.6 1989.5,922.0 1989.9,861.9 1990.4,1099.2 1990.9,1058.6 1991.3,1043.1 1991.8,933.0 1992.2,952.7 1992.7,943.0 1993.2,1094.0 1993.6,970.0 1994.1,907.2 1994.5,938.7 1995.0,936.4 1995.4,1023.5 1995.9,982.4 1996.3,981.3 1996.8,997.1 1997.2,923.3 1997.7,960.5 1998.1,1110.3 1998.6,954.2 1999.0,911.2 1999.5,1078.4 1999.9,967.2 2000.4,1044.9 2000.8,914.9 2001.3,942.5 2001.7,1001.7 2002.2,962.6 2002.6,909.9 2003.0,1005.5 2003.5,886.5 2003.9,869.6 2004.4,943.9 2004.8,1010.9 2005.2,991.5 2005.7,915.9 2006.1,945.3 2006.5,1040.7 2007.0,1010.2 2007.4,1081.1 2007.8,1149.7 2008.3,1025.4 2008.7,981.1 2009.1,986.4 2009.6,916.2 2010.0,898.7 2010.4,896.3 2010.9,1026.6 2011.3,881.1 2011.7,953.4 2012.1,1116.3 2012.6,1021.9 2013.0,972.5 2013.4,951.7 2013.8,899.2 2014.3,951.5 2014.7,1142.5 2015.1,905.9 2015.5,1171.8 2015.9,1037.2 2016.4,964.0 2016.8,1112.2 2017.2,914.2 2017.6,1028.6 2018.0,998.3 2018.5,987.1 2018.9,1019.9 2019.3,1139.7 2019.7,1056.6 2020.1,1042.7 2020.5,933.0 2020.9,1063.7 2021.4,1115.7 2021.8,1049.4 2022.2,984.6 2022.6,934.3 2023.0,1019.4 2023.4,968.3 2023.8,1006.1 2024.2,1062.0 2024.6,998.5 2025.0,977.7 2025.4,1137.6 2025.8,1014.1 2026.2,916.2 2026.7,1050.3 2027.1,1156.6 2027.5,1088.9 2027.9,1036.7 2028.3,1056.7 2028.7,870.1 2029.1,1142.9 2029.5,1096.6 2029.9,958.7 2030.3,971.7 2030.7,983.9 2031.1,1020.1 2031.4,1047.6 2031.8,976.9 2032.2,1040.5 2032.6,927.1 2033.0,962.8 2033.4,1013.2 2033.8,986.3 2034.2,957.2 2034.6,929.8 2035.0,1060.4 2035.4,1039.1 2035.8,1100.2 2036.2,1221.5 2036.6,923.9 2036.9,946.2 2037.3,981.4 2037.7,949.1 2038.1,937.3 2038.5,1059.1 2038.9,903.8 2039.3,828.6 2039.6,914.3 2040.0,922.7 2040.4,1059.2 2040.8,890.1 2041.2,1093.1 2041.6,989.3 2041.9,1077.4 2042.3,938.7 2042.7,992.1 2043.1,1009.7 2043.5,989.3 2043.8,915.1 2044.2,977.2 2044.6,1043.1 2045.0,1012.2 2045.3,1027.3 2045.7,925.4 2046.1,940.2 2046.5,944.9 2046.8,968.9 2047.2,852.3 2047.6,982.2 2048.0,1133.3 2048.3,984.7 2048.7,951.7 2049.1,844.4 2049.4,1096.1 2049.8,966.2 2050.2,956.3 2050.6,1027.9 2050.9,1068.9 2051.3,999.6 2051.7,1191.2 2052.0,1111.9 2052.4,938.1 2052.8,915.4 2053.1,920.8 2053.5,945.6 2053.9,1094.0 2054.2,936.5 2054.6,1084.5 2054.9,959.9 2055.3,1026.7 2055.7,978.2 2056.0,1064.8 2056.4,1025.1 2056.7,944.0 2057.1,978.8 2057.5,913.9 2057.8,1032.0 2058.2,981.3 2058.5,1086.5 2058.9,1005.8 2059.3,913.5 2059.6,916.1 2060.0,1134.2 2060.3,973.0 2060.7,896.9 2061.0,957.9 2061.4,928.2 2061.7,1138.5 2062.1,992.2 2062.4,895.9 2062.8,1032.1 2063.2,1084.1 2063.5,980.4 2063.9,1007.7 2064.2,1056.4 2064.6,1021.2 2064.9,942.5 2065.3,892.2 2065.6,1152.0 2066.0,1000.5 2066.3,1003.2 2066.6,970.7 2067.0,941.4 2067.3,992.2 2067.7,919.3 2068.0,1073.2 2068.4,937.0 2068.7,902.5 2069.1,909.6 2069.4,1069.3 2069.7,950.8 2070.1,997.6 2070.4,1110.1 2070.8,956.1 2071.1,1149.2 2071.5,1060.9 2071.8,1047.2 2072.1,924.6 2072.5,952.5 2072.8,951.0 2073.2,872.5 2073.5,1097.8 2073.8,980.2 2074.2,1101.1 2074.5,931.1 2074.8,1104.3 2075.2,1057.5 2075.5,995.9 2075.9,957.0 2076.2,997.4 2076.5,992.7 2076.9,932.5 2077.2,1027.0 2077.5,960.4 2077.9,1029.9 2078.2,1042.7 2078.5,992.3 2078.8,1019.8 2079.2,1051.2 2079.5,1142.7 2079.8,879.5 2080.2,971.7 2080.5,978.4 2080.8,1134.9 2081.2,890.3 2081.5,1041.0 2081.8,981.7 2082.1,982.7 2082.5,904.7 2082.8,1001.9 2083.1,890.8 2083.4,999.1 2083.8,921.3 2084.1,1048.4 2084.4,949.2 2084.7,946.9 2085.1,1001.8 2085.4,985.4 2085.7,1169.8 2086.0,923.5 2086.4,968.7 2086.7,1005.4 2087.0,1018.2 2087.3,919.6 2087.6,1061.1 2088.0,1029.5 2088.3,1044.9 2088.6,1015.4 2088.9,1059.7 2089.2,1073.7 2089.6,914.0 2089.9,954.2 2090.2,1111.2 2090.5,880.9 2090.8,945.1 2091.2,916.1 2091.5,972.8 2091.8,1011.7 2092.1,1023.1 2092.4,992.5 2092.7,987.8 2093.0,1006.4 2093.4,944.9 2093.7,975.1 2094.0,1056.3 2094.3,1028.2 2094.6,1075.4 2094.9,992.3 2095.2,901.1 2095.5,968.8 2095.9,1043.0 2096.2,1031.5 2096.5,1036.9 2096.8,1194.8 2097.1,921.9 2097.4,921.1 2097.7,1003.6 2098.0,1045.6 2098.3,1046.2 2098.6,975.7 2098.9,1031.3 2099.2,941.9 2099.6,951.2 2099.9,933.1 2100.2,952.3 2100.5,1013.0 2100.8,1072.8 2101.1,1225.9 2101.4,938.2 2101.7,987.3 2102.0,906.7 2102.3,933.8 2102.6,900.0 2102.9,922.4 2103.2,1158.2 2103.5,1074.0 2103.8,1007.5 2104.1,973.5 2104.4,924.1 2104.7,1040.4 2105.0,1370.5 2105.3,928.2 2105.6,992.8 2105.9,1080.9 2106.2,950.2 2106.5,1071.1 2106.8,1035.6 2107.1,1034.1 2107.4,962.1 2107.7,976.7 2108.0,953.4 2108.3,929.2 2108.6,969.5 2108.9,1011.6 2109.2,969.2 2109.5,927.0 2109.8,1028.1 2110.1,993.7 2110.4,900.9 2110.7,913.5 2111.0,997.1 2111.2,976.1 2111.5,1035.7 2111.8,998.0 2112.1,895.5 2112.4,940.9 2112.7,1052.3 2113.0,907.1 2113.3,975.9 2113.6,1019.6 2113.9,876.2 2114.2,1039.3 2114.5,1135.5 2114.7,1264.8 2115.0,989.6 2115.3,899.4 2115.6,929.6 2115.9,1100.0 2116.2,902.4 2116.5,940.0 2116.8,963.2 2117.0,965.6 2117.3,1054.4 2117.6,989.8 2117.9,1289.1 2118.2,1181.7 2118.5,937.3 2118.8,1189.9" fill="none" stroke="#0000ff" stroke-width="3.4" stroke-linejoin="round"/>
</g>
<path d="M295.0 209.3l24 24m0 -24l-24 24M478.7 204.5l24 24m0 -24l-24 24M586.2 279.8l24 24m0 -24l-24 24M662.5 354.7l24 24m0 -24l-24 24M721.6 447.5l24 24m0 -24l-24 24M769.9 353.8l24 24m0 -24l-24 24M810.8 455.4l24 24m0 -24l-24 24M846.2 564.0l24 24m0 -24l-24 24M877.4 573.0l24 24m0 -24l-24 24M905.3 496.0l24 24m0 -24l-24 24M930.6 586.0l24 24m0 -24l-24 24M953.7 491.6l24 24m0 -24l-24 24M974.9 710.7l24 24m0 -24l-24 24M994.5 483.8l24 24m0 -24l-24 24M1012.8 636.3l24 24m0 -24l-24 24M1029.9 451.0l24 24m0 -24l-24 24M1046.0 483.3l24 24m0 -24l-24 24M1061.1 525.7l24 24m0 -24l-24 24M1075.5 568.2l24 24m0 -24l-24 24M1089.1 557.0l24 24m0 -24l-24 24M1102.0 613.2l24 24m0 -24l-24 24M1114.3 624.5l24 24m0 -24l-24 24M1126.1 634.0l24 24m0 -24l-24 24M1137.4 628.0l24 24m0 -24l-24 24M1148.2 578.6l24 24m0 -24l-24 24M1158.6 737.4l24 24m0 -24l-24 24M1168.6 811.3l24 24m0 -24l-24 24M1178.2 589.0l24 24m0 -24l-24 24M1187.5 610.0l24 24m0 -24l-24 24M1196.5 658.0l24 24m0 -24l-24 24M1205.2 673.0l24 24m0 -24l-24 24M1213.6 617.0l24 24m0 -24l-24 24M1221.8 688.0l24 24m0 -24l-24 24M1229.7 641.0l24 24m0 -24l-24 24M1237.4 766.0l24 24m0 -24l-24 24M1244.9 688.0l24 24m0 -24l-24 24M1252.1 723.0l24 24m0 -24l-24 24M1259.2 614.0l24 24m0 -24l-24 24M1266.1 726.0l24 24m0 -24l-24 24M1272.8 1136.0l24 24m0 -24l-24 24M1279.3 766.0l24 24m0 -24l-24 24M1285.7 638.0l24 24m0 -24l-24 24M1292.0 688.0l24 24m0 -24l-24 24M1298.1 616.0l24 24m0 -24l-24 24M1304.0 678.0l24 24m0 -24l-24 24M1309.8 708.0l24 24m0 -24l-24 24M1315.5 592.0l24 24m0 -24l-24 24M1321.1 787.0l24 24m0 -24l-24 24M1326.6 791.3l24 24m0 -24l-24 24M1331.9 822.0l24 24m0 -24l-24 24M1337.2 693.4l24 24m0 -24l-24 24M1342.3 894.8l24 24m0 -24l-24 24M1347.4 837.0l24 24m0 -24l-24 24M1352.3 619.5l24 24m0 -24l-24 24M1357.2 869.3l24 24m0 -24l-24 24M1362.0 809.1l24 24m0 -24l-24 24M1366.7 782.5l24 24m0 -24l-24 24M1371.3 728.0l24 24m0 -24l-24 24M1375.8 626.6l24 24m0 -24l-24 24M1380.3 720.2l24 24m0 -24l-24 24M1384.6 707.1l24 24m0 -24l-24 24M1389.0 836.9l24 24m0 -24l-24 24M1393.2 685.3l24 24m0 -24l-24 24M1397.4 691.0l24 24m0 -24l-24 24M1401.5 647.8l24 24m0 -24l-24 24M1405.5 643.6l24 24m0 -24l-24 24M1409.5 677.4l24 24m0 -24l-24 24M1413.4 694.4l24 24m0 -24l-24 24M1417.3 753.2l24 24m0 -24l-24 24M1421.1 842.0l24 24m0 -24l-24 24M1424.9 742.1l24 24m0 -24l-24 24M1428.6 720.7l24 24m0 -24l-24 24M1432.2 661.9l24 24m0 -24l-24 24M1435.9 725.7l24 24m0 -24l-24 24M1439.4 699.3l24 24m0 -24l-24 24M1442.9 631.0l24 24m0 -24l-24 24M1446.4 643.0l24 24m0 -24l-24 24M1449.8 762.6l24 24m0 -24l-24 24M1453.2 713.7l24 24m0 -24l-24 24M1456.5 789.0l24 24m0 -24l-24 24M1459.8 650.0l24 24m0 -24l-24 24M1463.1 765.9l24 24m0 -24l-24 24M1466.3 786.1l24 24m0 -24l-24 24M1469.4 708.6l24 24m0 -24l-24 24M1472.6 814.4l24 24m0 -24l-24 24M1475.7 755.2l24 24m0 -24l-24 24M1478.8 842.9l24 24m0 -24l-24 24M1481.8 888.0l24 24m0 -24l-24 24M1484.8 848.0l24 24m0 -24l-24 24M1487.7 786.0l24 24m0 -24l-24 24M1490.7 717.7l24 24m0 -24l-24 24M1493.6 737.9l24 24m0 -24l-24 24M1496.4 657.6l24 24m0 -24l-24 24M1499.3 764.9l24 24m0 -24l-24 24M1502.1 888.0l24 24m0 -24l-24 24M1504.8 801.1l24 24m0 -24l-24 24M1507.6 811.7l24 24m0 -24l-24 24M1510.3 905.7l24 24m0 -24l-24 24M1513.0 1006.6l24 24m0 -24l-24 24M1515.7 818.5l24 24m0 -24l-24 24M1518.3 662.7l24 24m0 -24l-24 24M1520.9 767.8l24 24m0 -24l-24 24M1523.5 737.7l24 24m0 -24l-24 24M1526.1 823.9l24 24m0 -24l-24 24M1528.6 842.8l24 24m0 -24l-24 24M1531.1 913.7l24 24m0 -24l-24 24M1533.6 742.6l24 24m0 -24l-24 24M1536.1 765.3l24 24m0 -24l-24 24M1538.5 778.3l24 24m0 -24l-24 24M1540.9 721.9l24 24m0 -24l-24 24M1543.3 643.0l24 24m0 -24l-24 24M1545.7 811.6l24 24m0 -24l-24 24M1548.1 735.1l24 24m0 -24l-24 24M1550.4 696.0l24 24m0 -24l-24 24M1552.7 886.8l24 24m0 -24l-24 24M1555.0 663.9l24 24m0 -24l-24 24M1557.3 767.0l24 24m0 -24l-24 24M1559.5 993.6l24 24m0 -24l-24 24M1561.8 902.7l24 24m0 -24l-24 24M1564.0 865.4l24 24m0 -24l-24 24M1566.2 720.2l24 24m0 -24l-24 24M1568.4 742.2l24 24m0 -24l-24 24M1570.5 649.0l24 24m0 -24l-24 24M1572.7 833.9l24 24m0 -24l-24 24M1574.8 814.2l24 24m0 -24l-24 24M1576.9 734.7l24 24m0 -24l-24 24M1579.0 764.9l24 24m0 -24l-24 24M1581.1 732.8l24 24m0 -24l-24 24M1583.2 823.6l24 24m0 -24l-24 24M1585.2 759.0l24 24m0 -24l-24 24M1587.2 852.7l24 24m0 -24l-24 24M1589.3 666.1l24 24m0 -24l-24 24M1591.3 897.0l24 24m0 -24l-24 24M1593.2 853.8l24 24m0 -24l-24 24M1595.2 736.3l24 24m0 -24l-24 24M1597.2 893.2l24 24m0 -24l-24 24M1599.1 710.9l24 24m0 -24l-24 24M1601.0 737.5l24 24m0 -24l-24 24M1603.0 690.5l24 24m0 -24l-24 24M1604.9 727.8l24 24m0 -24l-24 24M1606.7 755.1l24 24m0 -24l-24 24M1608.6 818.1l24 24m0 -24l-24 24M1610.5 696.5l24 24m0 -24l-24 24M1612.3 797.4l24 24m0 -24l-24 24M1614.2 751.0l24 24m0 -24l-24 24M1616.0 818.2l24 24m0 -24l-24 24M1617.8 710.3l24 24m0 -24l-24 24M1619.6 760.0l24 24m0 -24l-24 24M1621.4 714.1l24 24m0 -24l-24 24M1623.1 679.3l24 24m0 -24l-24 24M1624.9 911.8l24 24m0 -24l-24 24M1626.6 723.1l24 24m0 -24l-24 24M1628.4 769.8l24 24m0 -24l-24 24M1630.1 714.8l24 24m0 -24l-24 24M1631.8 747.3l24 24m0 -24l-24 24M1633.5 809.5l24 24m0 -24l-24 24M1635.2 892.5l24 24m0 -24l-24 24M1636.9 685.0l24 24m0 -24l-24 24M1638.6 783.5l24 24m0 -24l-24 24M1640.2 814.1l24 24m0 -24l-24 24M1641.9 706.9l24 24m0 -24l-24 24M1643.5 839.7l24 24m0 -24l-24 24M1645.2 708.9l24 24m0 -24l-24 24M1646.8 765.5l24 24m0 -24l-24 24M1648.4 904.8l24 24m0 -24l-24 24M1650.0 897.1l24 24m0 -24l-24 24M1651.6 697.4l24 24m0 -24l-24 24M1653.2 758.6l24 24m0 -24l-24 24M1654.8 864.2l24 24m0 -24l-24 24M1656.3 786.9l24 24m0 -24l-24 24M1657.9 900.2l24 24m0 -24l-24 24M1659.4 860.1l24 24m0 -24l-24 24M1661.0 889.3l24 24m0 -24l-24 24M1662.5 707.9l24 24m0 -24l-24 24M1664.0 771.9l24 24m0 -24l-24 24M1665.5 910.6l24 24m0 -24l-24 24M1667.0 894.2l24 24m0 -24l-24 24M1668.5 863.7l24 24m0 -24l-24 24M1670.0 690.1l24 24m0 -24l-24 24M1671.5 701.5l24 24m0 -24l-24 24M1672.9 760.6l24 24m0 -24l-24 24M1674.4 898.2l24 24m0 -24l-24 24M1675.8 838.9l24 24m0 -24l-24 24M1677.3 786.7l24 24m0 -24l-24 24M1678.7 849.3l24 24m0 -24l-24 24M1680.2 850.4l24 24m0 -24l-24 24M1681.6 939.4l24 24m0 -24l-24 24M1683.0 704.9l24 24m0 -24l-24 24M1684.4 746.1l24 24m0 -24l-24 24M1685.8 705.4l24 24m0 -24l-24 24M1687.2 821.4l24 24m0 -24l-24 24M1688.6 822.5l24 24m0 -24l-24 24M1689.9 711.5l24 24m0 -24l-24 24M1691.3 813.1l24 24m0 -24l-24 24M1692.7 860.3l24 24m0 -24l-24 24M1694.0 770.2l24 24m0 -24l-24 24M1695.4 915.2l24 24m0 -24l-24 24M1696.7 821.9l24 24m0 -24l-24 24M1698.1 735.8l24 24m0 -24l-24 24M1699.4 801.1l24 24m0 -24l-24 24M1700.7 918.7l24 24m0 -24l-24 24M1702.0 755.4l24 24m0 -24l-24 24M1703.3 842.1l24 24m0 -24l-24 24M1704.6 764.9l24 24m0 -24l-24 24M1705.9 874.3l24 24m0 -24l-24 24M1707.2 805.3l24 24m0 -24l-24 24M1708.5 778.6l24 24m0 -24l-24 24M1709.8 793.4l24 24m0 -24l-24 24M1711.1 886.6l24 24m0 -24l-24 24M1712.3 903.7l24 24m0 -24l-24 24M1713.6 834.8l24 24m0 -24l-24 24M1714.8 698.9l24 24m0 -24l-24 24M1716.1 927.8l24 24m0 -24l-24 24M1717.3 826.0l24 24m0 -24l-24 24M1718.6 734.5l24 24m0 -24l-24 24M1719.8 959.3l24 24m0 -24l-24 24M1721.0 813.7l24 24m0 -24l-24 24M1722.2 874.2l24 24m0 -24l-24 24M1723.4 850.3l24 24m0 -24l-24 24M1724.7 814.5l24 24m0 -24l-24 24M1725.9 873.8l24 24m0 -24l-24 24M1727.1 745.1l24 24m0 -24l-24 24M1728.2 829.2l24 24m0 -24l-24 24M1729.4 782.1l24 24m0 -24l-24 24M1730.6 903.0l24 24m0 -24l-24 24M1731.8 717.4l24 24m0 -24l-24 24M1733.0 812.7l24 24m0 -24l-24 24M1734.1 977.9l24 24m0 -24l-24 24M1735.3 749.0l24 24m0 -24l-24 24M1736.4 765.7l24 24m0 -24l-24 24M1737.6 774.9l24 24m0 -24l-24 24M1738.7 836.2l24 24m0 -24l-24 24M1739.9 764.9l24 24m0 -24l-24 24M1741.0 810.1l24 24m0 -24l-24 24M1742.1 800.7l24 24m0 -24l-24 24M1743.3 965.8l24 24m0 -24l-24 24M1744.4 851.8l24 24m0 -24l-24 24M1745.5 850.0l24 24m0 -24l-24 24M1746.6 810.8l24 24m0 -24l-24 24M1747.7 771.1l24 24m0 -24l-24 24M1748.8 821.8l24 24m0 -24l-24 24M1749.9 824.6l24 24m0 -24l-24 24M1751.0 866.2l24 24m0 -24l-24 24M1752.1 887.8l24 24m0 -24l-24 24M1753.2 855.2l24 24m0 -24l-24 24M1754.3 1006.8l24 24m0 -24l-24 24M1755.3 864.3l24 24m0 -24l-24 24M1756.4 805.8l24 24m0 -24l-24 24M1757.5 836.4l24 24m0 -24l-24 24M1758.5 732.4l24 24m0 -24l-24 24M1759.6 900.0l24 24m0 -24l-24 24M1760.7 787.0l24 24m0 -24l-24 24M1761.7 839.1l24 24m0 -24l-24 24M1762.7 827.1l24 24m0 -24l-24 24M1763.8 867.4l24 24m0 -24l-24 24M1764.8 914.7l24 24m0 -24l-24 24M1765.9 826.7l24 24m0 -24l-24 24M1766.9 803.0l24 24m0 -24l-24 24M1767.9 851.3l24 24m0 -24l-24 24M1768.9 1016.1l24 24m0 -24l-24 24M1770.0 960.1l24 24m0 -24l-24 24M1771.0 824.0l24 24m0 -24l-24 24M1772.0 795.4l24 24m0 -24l-24 24M1773.0 1001.3l24 24m0 -24l-24 24M1774.0 809.5l24 24m0 -24l-24 24M1775.0 801.8l24 24m0 -24l-24 24M1776.0 922.4l24 24m0 -24l-24 24M1777.0 807.0l24 24m0 -24l-24 24M1778.0 848.1l24 24m0 -24l-24 24M1778.9 818.8l24 24m0 -24l-24 24M1779.9 781.6l24 24m0 -24l-24 24M1780.9 944.3l24 24m0 -24l-24 24M1781.9 963.8l24 24m0 -24l-24 24M1782.8 783.8l24 24m0 -24l-24 24M1783.8 916.8l24 24m0 -24l-24 24M1784.8 859.1l24 24m0 -24l-24 24M1785.7 771.6l24 24m0 -24l-24 24M1786.7 831.1l24 24m0 -24l-24 24M1787.6 736.3l24 24m0 -24l-24 24M1788.6 1013.4l24 24m0 -24l-24 24M1789.5 987.7l24 24m0 -24l-24 24M1790.5 892.7l24 24m0 -24l-24 24M1791.4 835.3l24 24m0 -24l-24 24M1792.3 995.0l24 24m0 -24l-24 24M1793.3 1055.6l24 24m0 -24l-24 24M1794.2 905.6l24 24m0 -24l-24 24M1795.1 892.5l24 24m0 -24l-24 24M1796.0 798.7l24 24m0 -24l-24 24M1797.0 905.1l24 24m0 -24l-24 24M1797.9 1138.7l24 24m0 -24l-24 24M1798.8 967.2l24 24m0 -24l-24 24M1799.7 912.7l24 24m0 -24l-24 24M1800.6 845.5l24 24m0 -24l-24 24M1801.5 838.6l24 24m0 -24l-24 24M1802.4 813.9l24 24m0 -24l-24 24M1803.3 861.5l24 24m0 -24l-24 24M1804.2 770.4l24 24m0 -24l-24 24M1805.1 922.4l24 24m0 -24l-24 24M1806.0 963.3l24 24m0 -24l-24 24M1806.9 869.7l24 24m0 -24l-24 24M1807.7 909.7l24 24m0 -24l-24 24M1808.6 817.4l24 24m0 -24l-24 24M1809.5 998.7l24 24m0 -24l-24 24M1810.4 862.6l24 24m0 -24l-24 24M1811.2 787.7l24 24m0 -24l-24 24M1812.1 879.3l24 24m0 -24l-24 24M1813.0 898.1l24 24m0 -24l-24 24M1813.8 943.0l24 24m0 -24l-24 24M1814.7 779.5l24 24m0 -24l-24 24M1815.6 864.5l24 24m0 -24l-24 24M1816.4 794.9l24 24m0 -24l-24 24M1817.3 803.6l24 24m0 -24l-24 24M1818.1 809.1l24 24m0 -24l-24 24M1819.0 990.9l24 24m0 -24l-24 24M1819.8 963.3l24 24m0 -24l-24 24M1820.6 837.2l24 24m0 -24l-24 24M1821.5 922.8l24 24m0 -24l-24 24M1822.3 936.8l24 24m0 -24l-24 24M1823.1 846.2l24 24m0 -24l-24 24M1824.0 882.4l24 24m0 -24l-24 24M1824.8 918.7l24 24m0 -24l-24 24M1825.6 916.1l24 24m0 -24l-24 24M1826.4 925.0l24 24m0 -24l-24 24M1827.3 1017.3l24 24m0 -24l-24 24M1828.1 781.1l24 24m0 -24l-24 24M1828.9 847.7l24 24m0 -24l-24 24M1829.7 954.9l24 24m0 -24l-24 24M1830.5 939.9l24 24m0 -24l-24 24M1831.3 860.8l24 24m0 -24l-24 24M1832.1 886.3l24 24m0 -24l-24 24M1832.9 1028.9l24 24m0 -24l-24 24M1833.7 1129.7l24 24m0 -24l-24 24M1834.5 897.9l24 24m0 -24l-24 24M1835.3 825.5l24 24m0 -24l-24 24M1836.1 871.1l24 24m0 -24l-24 24M1836.9 866.0l24 24m0 -24l-24 24M1837.7 861.5l24 24m0 -24l-24 24M1838.5 878.7l24 24m0 -24l-24 24M1839.3 893.0l24 24m0 -24l-24 24M1840.0 871.4l24 24m0 -24l-24 24M1840.8 958.8l24 24m0 -24l-24 24M1841.6 941.3l24 24m0 -24l-24 24M1842.4 978.4l24 24m0 -24l-24 24M1843.1 1044.2l24 24m0 -24l-24 24M1843.9 819.7l24 24m0 -24l-24 24M1844.7 909.1l24 24m0 -24l-24 24M1845.4 1172.1l24 24m0 -24l-24 24M1846.2 925.9l24 24m0 -24l-24 24M1847.0 849.4l24 24m0 -24l-24 24M1847.7 946.9l24 24m0 -24l-24 24M1848.5 947.2l24 24m0 -24l-24 24M1849.2 848.5l24 24m0 -24l-24 24M1850.0 1006.6l24 24m0 -24l-24 24M1850.7 1207.6l24 24m0 -24l-24 24M1851.5 810.8l24 24m0 -24l-24 24M1852.2 969.4l24 24m0 -24l-24 24M1853.0 884.9l24 24m0 -24l-24 24M1853.7 881.2l24 24m0 -24l-24 24M1854.5 969.9l24 24m0 -24l-24 24M1855.2 1067.2l24 24m0 -24l-24 24M1855.9 1035.8l24 24m0 -24l-24 24M1856.7 795.4l24 24m0 -24l-24 24M1857.4 915.0l24 24m0 -24l-24 24M1858.1 1157.1l24 24m0 -24l-24 24M1858.8 906.8l24 24m0 -24l-24 24M1859.6 866.1l24 24m0 -24l-24 24M1860.3 895.0l24 24m0 -24l-24 24M1861.0 859.3l24 24m0 -24l-24 24M1861.7 811.9l24 24m0 -24l-24 24M1862.5 860.2l24 24m0 -24l-24 24M1863.2 958.4l24 24m0 -24l-24 24M1863.9 929.5l24 24m0 -24l-24 24M1864.6 1271.9l24 24m0 -24l-24 24M1865.3 890.7l24 24m0 -24l-24 24M1866.0 880.0l24 24m0 -24l-24 24M1866.7 870.6l24 24m0 -24l-24 24M1867.4 1077.5l24 24m0 -24l-24 24M1868.1 853.9l24 24m0 -24l-24 24M1868.8 863.8l24 24m0 -24l-24 24M1869.5 807.2l24 24m0 -24l-24 24M1870.2 930.4l24 24m0 -24l-24 24M1870.9 884.2l24 24m0 -24l-24 24M1871.6 826.3l24 24m0 -24l-24 24M1872.3 947.4l24 24m0 -24l-24 24M1873.0 978.4l24 24m0 -24l-24 24M1873.7 796.3l24 24m0 -24l-24 24M1874.4 857.9l24 24m0 -24l-24 24M1875.0 877.3l24 24m0 -24l-24 24M1875.7 888.0l24 24m0 -24l-24 24M1876.4 891.1l24 24m0 -24l-24 24M1877.1 916.0l24 24m0 -24l-24 24M1877.8 1129.0l24 24m0 -24l-24 24M1878.4 908.9l24 24m0 -24l-24 24M1879.1 867.1l24 24m0 -24l-24 24M1879.8 826.3l24 24m0 -24l-24 24M1880.5 974.5l24 24m0 -24l-24 24M1881.1 978.1l24 24m0 -24l-24 24M1881.8 884.3l24 24m0 -24l-24 24M1882.5 1029.1l24 24m0 -24l-24 24M1883.1 858.1l24 24m0 -24l-24 24M1883.8 1021.1l24 24m0 -24l-24 24M1884.4 913.0l24 24m0 -24l-24 24M1885.1 829.0l24 24m0 -24l-24 24M1885.8 952.0l24 24m0 -24l-24 24M1886.4 983.5l24 24m0 -24l-24 24M1887.1 883.4l24 24m0 -24l-24 24M1887.7 859.6l24 24m0 -24l-24 24M1888.4 893.0l24 24m0 -24l-24 24M1889.0 1099.6l24 24m0 -24l-24 24M1889.7 945.9l24 24m0 -24l-24 24M1890.3 1149.5l24 24m0 -24l-24 24M1891.0 866.9l24 24m0 -24l-24 24M1891.6 1076.8l24 24m0 -24l-24 24M1892.2 814.8l24 24m0 -24l-24 24M1892.9 912.3l24 24m0 -24l-24 24M1893.5 970.4l24 24m0 -24l-24 24M1894.2 863.2l24 24m0 -24l-24 24M1894.8 898.0l24 24m0 -24l-24 24M1895.4 888.9l24 24m0 -24l-24 24M1896.1 1115.2l24 24m0 -24l-24 24M1896.7 900.9l24 24m0 -24l-24 24M1897.3 1214.3l24 24m0 -24l-24 24M1897.9 997.3l24 24m0 -24l-24 24M1898.6 859.0l24 24m0 -24l-24 24M1899.2 874.2l24 24m0 -24l-24 24M1899.8 932.3l24 24m0 -24l-24 24M1900.4 1009.3l24 24m0 -24l-24 24M1901.1 875.1l24 24m0 -24l-24 24M1901.7 1083.7l24 24m0 -24l-24 24M1902.3 866.9l24 24m0 -24l-24 24M1902.9 880.6l24 24m0 -24l-24 24M1903.5 971.9l24 24m0 -24l-24 24M1904.1 878.8l24 24m0 -24l-24 24M1904.7 913.7l24 24m0 -24l-24 24M1905.4 867.7l24 24m0 -24l-24 24M1906.0 928.7l24 24m0 -24l-24 24M1906.6 980.4l24 24m0 -24l-24 24M1907.2 826.7l24 24m0 -24l-24 24M1907.8 801.7l24 24m0 -24l-24 24M1908.4 846.8l24 24m0 -24l-24 24M1909.0 982.7l24 24m0 -24l-24 24M1909.6 862.0l24 24m0 -24l-24 24M1910.2 919.5l24 24m0 -24l-24 24M1910.8 942.2l24 24m0 -24l-24 24M1911.4 870.9l24 24m0 -24l-24 24M1912.0 981.3l24 24m0 -24l-24 24M1912.6 1008.7l24 24m0 -24l-24 24M1913.2 966.7l24 24m0 -24l-24 24M1913.8 904.4l24 24m0 -24l-24 24M1914.3 893.2l24 24m0 -24l-24 24M1914.9 993.6l24 24m0 -24l-24 24M1915.5 891.5l24 24m0 -24l-24 24M1916.1 871.6l24 24m0 -24l-24 24M1916.7 994.5l24 24m0 -24l-24 24M1917.3 915.2l24 24m0 -24l-24 24M1917.9 1031.4l24 24m0 -24l-24 24M1918.4 952.3l24 24m0 -24l-24 24M1919.0 888.9l24 24m0 -24l-24 24M1919.6 818.3l24 24m0 -24l-24 24M1920.2 884.0l24 24m0 -24l-24 24M1920.7 971.2l24 24m0 -24l-24 24M1921.3 899.9l24 24m0 -24l-24 24M1921.9 953.0l24 24m0 -24l-24 24M1922.5 1028.1l24 24m0 -24l-24 24M1923.0 871.7l24 24m0 -24l-24 24M1923.6 864.2l24 24m0 -24l-24 24M1924.2 896.8l24 24m0 -24l-24 24M1924.7 973.3l24 24m0 -24l-24 24M1925.3 928.6l24 24m0 -24l-24 24M1925.9 894.1l24 24m0 -24l-24 24M1926.4 943.2l24 24m0 -24l-24 24M1927.0 901.0l24 24m0 -24l-24 24M1927.6 881.8l24 24m0 -24l-24 24M1928.1 946.5l24 24m0 -24l-24 24M1928.7 898.0l24 24m0 -24l-24 24M1929.2 986.3l24 24m0 -24l-24 24M1929.8 910.2l24 24m0 -24l-24 24M1930.3 929.8l24 24m0 -24l-24 24M1930.9 860.1l24 24m0 -24l-24 24M1931.4 983.6l24 24m0 -24l-24 24M1932.0 999.3l24 24m0 -24l-24 24M1932.6 916.6l24 24m0 -24l-24 24M1933.1 942.4l24 24m0 -24l-24 24M1933.6 873.0l24 24m0 -24l-24 24M1934.2 913.7l24 24m0 -24l-24 24M1934.7 952.8l24 24m0 -24l-24 24M1935.3 829.1l24 24m0 -24l-24 24M1935.8 951.4l24 24m0 -24l-24 24M1936.4 914.7l24 24m0 -24l-24 24M1936.9 889.4l24 24m0 -24l-24 24M1937.5 897.7l24 24m0 -24l-24 24M1938.0 871.8l24 24m0 -24l-24 24M1938.5 943.4l24 24m0 -24l-24 24M1939.1 903.5l24 24m0 -24l-24 24M1939.6 1124.2l24 24m0 -24l-24 24M1940.1 892.0l24 24m0 -24l-24 24M1940.7 967.0l24 24m0 -24l-24 24M1941.2 819.5l24 24m0 -24l-24 24M1941.7 1069.7l24 24m0 -24l-24 24M1942.3 851.2l24 24m0 -24l-24 24M1942.8 829.4l24 24m0 -24l-24 24M1943.3 956.7l24 24m0 -24l-24 24M1943.9 1005.8l24 24m0 -24l-24 24M1944.4 989.9l24 24m0 -24l-24 24M1944.9 1055.0l24 24m0 -24l-24 24M1945.4 1007.5l24 24m0 -24l-24 24M1946.0 995.6l24 24m0 -24l-24 24M1946.5 1142.7l24 24m0 -24l-24 24M1947.0 882.2l24 24m0 -24l-24 24M1947.5 949.9l24 24m0 -24l-24 24M1948.0 952.1l24 24m0 -24l-24 24M1948.6 939.4l24 24m0 -24l-24 24M1949.1 855.8l24 24m0 -24l-24 24M1949.6 889.3l24 24m0 -24l-24 24M1950.1 963.3l24 24m0 -24l-24 24M1950.6 938.2l24 24m0 -24l-24 24M1951.1 1001.0l24 24m0 -24l-24 24M1951.6 1033.2l24 24m0 -24l-24 24M1952.2 999.3l24 24m0 -24l-24 24M1952.7 896.9l24 24m0 -24l-24 24M1953.2 952.1l24 24m0 -24l-24 24M1953.7 1033.9l24 24m0 -24l-24 24M1954.2 993.7l24 24m0 -24l-24 24M1954.7 949.1l24 24m0 -24l-24 24M1955.2 918.1l24 24m0 -24l-24 24M1955.7 1150.5l24 24m0 -24l-24 24M1956.2 1194.0l24 24m0 -24l-24 24M1956.7 1089.5l24 24m0 -24l-24 24M1957.2 942.4l24 24m0 -24l-24 24M1957.7 1018.6l24 24m0 -24l-24 24M1958.2 871.9l24 24m0 -24l-24 24M1958.7 895.7l24 24m0 -24l-24 24M1959.2 1010.9l24 24m0 -24l-24 24M1959.7 838.2l24 24m0 -24l-24 24M1960.2 1017.0l24 24m0 -24l-24 24M1960.7 944.6l24 24m0 -24l-24 24M1961.2 886.5l24 24m0 -24l-24 24M1961.7 935.9l24 24m0 -24l-24 24M1962.2 1031.3l24 24m0 -24l-24 24M1962.7 1042.0l24 24m0 -24l-24 24M1963.2 1087.1l24 24m0 -24l-24 24M1963.6 963.8l24 24m0 -24l-24 24M1964.1 906.2l24 24m0 -24l-24 24M1964.6 838.8l24 24m0 -24l-24 24M1965.1 915.3l24 24m0 -24l-24 24M1965.6 939.2l24 24m0 -24l-24 24M1966.1 830.9l24 24m0 -24l-24 24M1966.6 935.5l24 24m0 -24l-24 24M1967.0 886.7l24 24m0 -24l-24 24M1967.5 970.7l24 24m0 -24l-24 24M1968.0 988.4l24 24m0 -24l-24 24M1968.5 929.1l24 24m0 -24l-24 24M1969.0 975.7l24 24m0 -24l-24 24M1969.5 891.1l24 24m0 -24l-24 24M1969.9 920.6l24 24m0 -24l-24 24M1970.4 1123.2l24 24m0 -24l-24 24M1970.9 907.9l24 24m0 -24l-24 24M1971.4 827.5l24 24m0 -24l-24 24M1971.8 939.0l24 24m0 -24l-24 24M1972.3 862.5l24 24m0 -24l-24 24M1972.8 958.1l24 24m0 -24l-24 24M1973.3 863.8l24 24m0 -24l-24 24M1973.7 938.7l24 24m0 -24l-24 24M1974.2 963.8l24 24m0 -24l-24 24M1974.7 978.8l24 24m0 -24l-24 24M1975.1 875.0l24 24m0 -24l-24 24M1975.6 993.4l24 24m0 -24l-24 24M1976.1 905.7l24 24m0 -24l-24 24M1976.5 880.2l24 24m0 -24l-24 24M1977.0 937.6l24 24m0 -24l-24 24M1977.5 910.0l24 24m0 -24l-24 24M1977.9 849.9l24 24m0 -24l-24 24M1978.4 1087.2l24 24m0 -24l-24 24M1978.9 1046.6l24 24m0 -24l-24 24M1979.3 1031.1l24 24m0 -24l-24 24M1979.8 921.0l24 24m0 -24l-24 24M1980.2 940.7l24 24m0 -24l-24 24M1980.7 931.0l24 24m0 -24l-24 24M1981.2 1082.0l24 24m0 -24l-24 24M1981.6 958.0l24 24m0 -24l-24 24M1982.1 895.2l24 24m0 -24l-24 24M1982.5 926.7l24 24m0 -24l-24 24M1983.0 924.4l24 24m0 -24l-24 24M1983.4 1011.5l24 24m0 -24l-24 24M1983.9 970.4l24 24m0 -24l-24 24M1984.3 969.3l24 24m0 -24l-24 24M1984.8 985.1l24 24m0 -24l-24 24M1985.2 911.3l24 24m0 -24l-24 24M1985.7 948.5l24 24m0 -24l-24 24M1986.1 1098.3l24 24m0 -24l-24 24M1986.6 942.2l24 24m0 -24l-24 24M1987.0 899.2l24 24m0 -24l-24 24M1987.5 1066.4l24 24m0 -24l-24 24M1987.9 955.2l24 24m0 -24l-24 24M1988.4 1032.9l24 24m0 -24l-24 24M1988.8 902.9l24 24m0 -24l-24 24M1989.3 930.5l24 24m0 -24l-24 24M1989.7 989.7l24 24m0 -24l-24 24M1990.2 950.6l24 24m0 -24l-24 24M1990.6 897.9l24 24m0 -24l-24 24M1991.0 993.5l24 24m0 -24l-24 24M1991.5 874.5l24 24m0 -24l-24 24M1991.9 857.6l24 24m0 -24l-24 24M1992.4 931.9l24 24m0 -24l-24 24M1992.8 998.9l24 24m0 -24l-24 24M1993.2 979.5l24 24m0 -24l-24 24M1993.7 903.9l24 24m0 -24l-24 24M1994.1 933.3l24 24m0 -24l-24 24M1994.5 1028.7l24 24m0 -24l-24 24M1995.0 998.2l24 24m0 -24l-24 24M1995.4 1069.1l24 24m0 -24l-24 24M1995.8 1137.7l24 24m0 -24l-24 24M1996.3 1013.4l24 24m0 -24l-24 24M1996.7 969.1l24 24m0 -24l-24 24M1997.1 974.4l24 24m0 -24l-24 24M1997.6 904.2l24 24m0 -24l-24 24M1998.0 886.7l24 24m0 -24l-24 24M1998.4 884.3l24 24m0 -24l-24 24M1998.9 1014.6l24 24m0 -24l-24 24M1999.3 869.1l24 24m0 -24l-24 24M1999.7 941.4l24 24m0 -24l-24 24M2000.1 1104.3l24 24m0 -24l-24 24M2000.6 1009.9l24 24m0 -24l-24 24M2001.0 960.5l24 24m0 -24l-24 24M2001.4 939.7l24 24m0 -24l-24 24M2001.8 887.2l24 24m0 -24l-24 24M2002.3 939.5l24 24m0 -24l-24 24M2002.7 1130.5l24 24m0 -24l-24 24M2003.1 893.9l24 24m0 -24l-24 24M2003.5 1159.8l24 24m0 -24l-24 24M2003.9 1025.2l24 24m0 -24l-24 24M2004.4 952.0l24 24m0 -24l-24 24M2004.8 1100.2l24 24m0 -24l-24 24M2005.2 902.2l24 24m0 -24l-24 24M2005.6 1016.6l24 24m0 -24l-24 24M2006.0 986.3l24 24m0 -24l-24 24M2006.5 975.1l24 24m0 -24l-24 24M2006.9 1007.9l24 24m0 -24l-24 24M2007.3 1127.7l24 24m0 -24l-24 24M2007.7 1044.6l24 24m0 -24l-24 24M2008.1 1030.7l24 24m0 -24l-24 24M2008.5 921.0l24 24m0 -24l-24 24M2008.9 1051.7l24 24m0 -24l-24 24M2009.4 1103.7l24 24m0 -24l-24 24M2009.8 1037.4l24 24m0 -24l-24 24M2010.2 972.6l24 24m0 -24l-24 24M2010.6 922.3l24 24m0 -24l-24 24M2011.0 1007.4l24 24m0 -24l-24 24M2011.4 956.3l24 24m0 -24l-24 24M2011.8 994.1l24 24m0 -24l-24 24M2012.2 1050.0l24 24m0 -24l-24 24M2012.6 986.5l24 24m0 -24l-24 24M2013.0 965.7l24 24m0 -24l-24 24M2013.4 1125.6l24 24m0 -24l-24 24M2013.8 1002.1l24 24m0 -24l-24 24M2014.2 904.2l24 24m0 -24l-24 24M2014.7 1038.3l24 24m0 -24l-24 24M2015.1 1144.6l24 24m0 -24l-24 24M2015.5 1076.9l24 24m0 -24l-24 24M2015.9 1024.7l24 24m0 -24l-24 24M2016.3 1044.7l24 24m0 -24l-24 24M2016.7 858.1l24 24m0 -24l-24 24M2017.1 1130.9l24 24m0 -24l-24 24M2017.5 1084.6l24 24m0 -24l-24 24M2017.9 946.7l24 24m0 -24l-24 24M2018.3 959.7l24 24m0 -24l-24 24M2018.7 971.9l24 24m0 -24l-24 24M2019.1 1008.1l24 24m0 -24l-24 24M2019.4 1035.6l24 24m0 -24l-24 24M2019.8 964.9l24 24m0 -24l-24 24M2020.2 1028.5l24 24m0 -24l-24 24M2020.6 915.1l24 24m0 -24l-24 24M2021.0 950.8l24 24m0 -24l-24 24M2021.4 1001.2l24 24m0 -24l-24 24M2021.8 974.3l24 24m0 -24l-24 24M2022.2 945.2l24 24m0 -24l-24 24M2022.6 917.8l24 24m0 -24l-24 24M2023.0 1048.4l24 24m0 -24l-24 24M2023.4 1027.1l24 24m0 -24l-24 24M2023.8 1088.2l24 24m0 -24l-24 24M2024.2 1209.5l24 24m0 -24l-24 24M2024.6 911.9l24 24m0 -24l-24 24M2024.9 934.2l24 24m0 -24l-24 24M2025.3 969.4l24 24m0 -24l-24 24M2025.7 937.1l24 24m0 -24l-24 24M2026.1 925.3l24 24m0 -24l-24 24M2026.5 1047.1l24 24m0 -24l-24 24M2026.9 891.8l24 24m0 -24l-24 24M2027.3 816.6l24 24m0 -24l-24 24M2027.6 902.3l24 24m0 -24l-24 24M2028.0 910.7l24 24m0 -24l-24 24M2028.4 1047.2l24 24m0 -24l-24 24M2028.8 878.1l24 24m0 -24l-24 24M2029.2 1081.1l24 24m0 -24l-24 24M2029.6 977.3l24 24m0 -24l-24 24M2029.9 1065.4l24 24m0 -24l-24 24M2030.3 926.7l24 24m0 -24l-24 24M2030.7 980.1l24 24m0 -24l-24 24M2031.1 997.7l24 24m0 -24l-24 24M2031.5 977.3l24 24m0 -24l-24 24M2031.8 903.1l24 24m0 -24l-24 24M2032.2 965.2l24 24m0 -24l-24 24M2032.6 1031.1l24 24m0 -24l-24 24M2033.0 1000.2l24 24m0 -24l-24 24M2033.3 1015.3l24 24m0 -24l-24 24M2033.7 913.4l24 24m0 -24l-24 24M2034.1 928.2l24 24m0 -24l-24 24M2034.5 932.9l24 24m0 -24l-24 24M2034.8 956.9l24 24m0 -24l-24 24M2035.2 840.3l24 24m0 -24l-24 24M2035.6 970.2l24 24m0 -24l-24 24M2036.0 1121.3l24 24m0 -24l-24 24M2036.3 972.7l24 24m0 -24l-24 24M2036.7 939.7l24 24m0 -24l-24 24M2037.1 832.4l24 24m0 -24l-24 24M2037.4 1084.1l24 24m0 -24l-24 24M2037.8 954.2l24 24m0 -24l-24 24M2038.2 944.3l24 24m0 -24l-24 24M2038.6 1015.9l24 24m0 -24l-24 24M2038.9 1056.9l24 24m0 -24l-24 24M2039.3 987.6l24 24m0 -24l-24 24M2039.7 1179.2l24 24m0 -24l-24 24M2040.0 1099.9l24 24m0 -24l-24 24M2040.4 926.1l24 24m0 -24l-24 24M2040.8 903.4l24 24m0 -24l-24 24M2041.1 908.8l24 24m0 -24l-24 24M2041.5 933.6l24 24m0 -24l-24 24M2041.9 1082.0l24 24m0 -24l-24 24M2042.2 924.5l24 24m0 -24l-24 24M2042.6 1072.5l24 24m0 -24l-24 24M2042.9 947.9l24 24m0 -24l-24 24M2043.3 1014.7l24 24m0 -24l-24 24M2043.7 966.2l24 24m0 -24l-24 24M2044.0 1052.8l24 24m0 -24l-24 24M2044.4 1013.1l24 24m0 -24l-24 24M2044.7 932.0l24 24m0 -24l-24 24M2045.1 966.8l24 24m0 -24l-24 24M2045.5 901.9l24 24m0 -24l-24 24M2045.8 1020.0l24 24m0 -24l-24 24M2046.2 969.3l24 24m0 -24l-24 24M2046.5 1074.5l24 24m0 -24l-24 24M2046.9 993.8l24 24m0 -24l-24 24M2047.3 901.5l24 24m0 -24l-24 24M2047.6 904.1l24 24m0 -24l-24 24M2048.0 1122.2l24 24m0 -24l-24 24M2048.3 961.0l24 24m0 -24l-24 24M2048.7 884.9l24 24m0 -24l-24 24M2049.0 945.9l24 24m0 -24l-24 24M2049.4 916.2l24 24m0 -24l-24 24M2049.7 1126.5l24 24m0 -24l-24 24M2050.1 980.2l24 24m0 -24l-24 24M2050.4 883.9l24 24m0 -24l-24 24M2050.8 1020.1l24 24m0 -24l-24 24M2051.2 1072.1l24 24m0 -24l-24 24M2051.5 968.4l24 24m0 -24l-24 24M2051.9 995.7l24 24m0 -24l-24 24M2052.2 1044.4l24 24m0 -24l-24 24M2052.6 1009.2l24 24m0 -24l-24 24M2052.9 930.5l24 24m0 -24l-24 24M2053.3 880.2l24 24m0 -24l-24 24M2053.6 1140.0l24 24m0 -24l-24 24M2054.0 988.5l24 24m0 -24l-24 24M2054.3 991.2l24 24m0 -24l-24 24M2054.6 958.7l24 24m0 -24l-24 24M2055.0 929.4l24 24m0 -24l-24 24M2055.3 980.2l24 24m0 -24l-24 24M2055.7 907.3l24 24m0 -24l-24 24M2056.0 1061.2l24 24m0 -24l-24 24M2056.4 925.0l24 24m0 -24l-24 24M2056.7 890.5l24 24m0 -24l-24 24M2057.1 897.6l24 24m0 -24l-24 24M2057.4 1057.3l24 24m0 -24l-24 24M2057.7 938.8l24 24m0 -24l-24 24M2058.1 985.6l24 24m0 -24l-24 24M2058.4 1098.1l24 24m0 -24l-24 24M2058.8 944.1l24 24m0 -24l-24 24M2059.1 1137.2l24 24m0 -24l-24 24M2059.5 1048.9l24 24m0 -24l-24 24M2059.8 1035.2l24 24m0 -24l-24 24M2060.1 912.6l24 24m0 -24l-24 24M2060.5 940.5l24 24m0 -24l-24 24M2060.8 939.0l24 24m0 -24l-24 24M2061.2 860.5l24 24m0 -24l-24 24M2061.5 1085.8l24 24m0 -24l-24 24M2061.8 968.2l24 24m0 -24l-24 24M2062.2 1089.1l24 24m0 -24l-24 24M2062.5 919.1l24 24m0 -24l-24 24M2062.8 1092.3l24 24m0 -24l-24 24M2063.2 1045.5l24 24m0 -24l-24 24M2063.5 983.9l24 24m0 -24l-24 24M2063.9 945.0l24 24m0 -24l-24 24M2064.2 985.4l24 24m0 -24l-24 24M2064.5 980.7l24 24m0 -24l-24 24M2064.9 920.5l24 24m0 -24l-24 24M2065.2 1015.0l24 24m0 -24l-24 24M2065.5 948.4l24 24m0 -24l-24 24M2065.9 1017.9l24 24m0 -24l-24 24M2066.2 1030.7l24 24m0 -24l-24 24M2066.5 980.3l24 24m0 -24l-24 24M2066.8 1007.8l24 24m0 -24l-24 24M2067.2 1039.2l24 24m0 -24l-24 24M2067.5 1130.7l24 24m0 -24l-24 24M2067.8 867.5l24 24m0 -24l-24 24M2068.2 959.7l24 24m0 -24l-24 24M2068.5 966.4l24 24m0 -24l-24 24M2068.8 1122.9l24 24m0 -24l-24 24M2069.2 878.3l24 24m0 -24l-24 24M2069.5 1029.0l24 24m0 -24l-24 24M2069.8 969.7l24 24m0 -24l-24 24M2070.1 970.7l24 24m0 -24l-24 24M2070.5 892.7l24 24m0 -24l-24 24M2070.8 989.9l24 24m0 -24l-24 24M2071.1 878.8l24 24m0 -24l-24 24M2071.4 987.1l24 24m0 -24l-24 24M2071.8 909.3l24 24m0 -24l-24 24M2072.1 1036.4l24 24m0 -24l-24 24M2072.4 937.2l24 24m0 -24l-24 24M2072.7 934.9l24 24m0 -24l-24 24M2073.1 989.8l24 24m0 -24l-24 24M2073.4 973.4l24 24m0 -24l-24 24M2073.7 1157.8l24 24m0 -24l-24 24M2074.0 911.5l24 24m0 -24l-24 24M2074.4 956.7l24 24m0 -24l-24 24M2074.7 993.4l24 24m0 -24l-24 24M2075.0 1006.2l24 24m0 -24l-24 24M2075.3 907.6l24 24m0 -24l-24 24M2075.6 1049.1l24 24m0 -24l-24 24M2076.0 1017.5l24 24m0 -24l-24 24M2076.3 1032.9l24 24m0 -24l-24 24M2076.6 1003.4l24 24m0 -24l-24 24M2076.9 1047.7l24 24m0 -24l-24 24M2077.2 1061.7l24 24m0 -24l-24 24M2077.6 902.0l24 24m0 -24l-24 24M2077.9 942.2l24 24m0 -24l-24 24M2078.2 1099.2l24 24m0 -24l-24 24M2078.5 868.9l24 24m0 -24l-24 24M2078.8 933.1l24 24m0 -24l-24 24M2079.2 904.1l24 24m0 -24l-24 24M2079.5 960.8l24 24m0 -24l-24 24M2079.8 999.7l24 24m0 -24l-24 24M2080.1 1011.1l24 24m0 -24l-24 24M2080.4 980.5l24 24m0 -24l-24 24M2080.7 975.8l24 24m0 -24l-24 24M2081.0 994.4l24 24m0 -24l-24 24M2081.4 932.9l24 24m0 -24l-24 24M2081.7 963.1l24 24m0 -24l-24 24M2082.0 1044.3l24 24m0 -24l-24 24M2082.3 1016.2l24 24m0 -24l-24 24M2082.6 1063.4l24 24m0 -24l-24 24M2082.9 980.3l24 24m0 -24l-24 24M2083.2 889.1l24 24m0 -24l-24 24M2083.5 956.8l24 24m0 -24l-24 24M2083.9 1031.0l24 24m0 -24l-24 24M2084.2 1019.5l24 24m0 -24l-24 24M2084.5 1024.9l24 24m0 -24l-24 24M2084.8 1182.8l24 24m0 -24l-24 24M2085.1 909.9l24 24m0 -24l-24 24M2085.4 909.1l24 24m0 -24l-24 24M2085.7 991.6l24 24m0 -24l-24 24M2086.0 1033.6l24 24m0 -24l-24 24M2086.3 1034.2l24 24m0 -24l-24 24M2086.6 963.7l24 24m0 -24l-24 24M2086.9 1019.3l24 24m0 -24l-24 24M2087.2 929.9l24 24m0 -24l-24 24M2087.6 939.2l24 24m0 -24l-24 24M2087.9 921.1l24 24m0 -24l-24 24M2088.2 940.3l24 24m0 -24l-24 24M2088.5 1001.0l24 24m0 -24l-24 24M2088.8 1060.8l24 24m0 -24l-24 24M2089.1 1213.9l24 24m0 -24l-24 24M2089.4 926.2l24 24m0 -24l-24 24M2089.7 975.3l24 24m0 -24l-24 24M2090.0 894.7l24 24m0 -24l-24 24M2090.3 921.8l24 24m0 -24l-24 24M2090.6 888.0l24 24m0 -24l-24 24M2090.9 910.4l24 24m0 -24l-24 24M2091.2 1146.2l24 24m0 -24l-24 24M2091.5 1062.0l24 24m0 -24l-24 24M2091.8 995.5l24 24m0 -24l-24 24M2092.1 961.5l24 24m0 -24l-24 24M2092.4 912.1l24 24m0 -24l-24 24M2092.7 1028.4l24 24m0 -24l-24 24M2093.0 1358.5l24 24m0 -24l-24 24M2093.3 916.2l24 24m0 -24l-24 24M2093.6 980.8l24 24m0 -24l-24 24M2093.9 1068.9l24 24m0 -24l-24 24M2094.2 938.2l24 24m0 -24l-24 24M2094.5 1059.1l24 24m0 -24l-24 24M2094.8 1023.6l24 24m0 -24l-24 24M2095.1 1022.1l24 24m0 -24l-24 24M2095.4 950.1l24 24m0 -24l-24 24M2095.7 964.7l24 24m0 -24l-24 24M2096.0 941.4l24 24m0 -24l-24 24M2096.3 917.2l24 24m0 -24l-24 24M2096.6 957.5l24 24m0 -24l-24 24M2096.9 999.6l24 24m0 -24l-24 24M2097.2 957.2l24 24m0 -24l-24 24M2097.5 915.0l24 24m0 -24l-24 24M2097.8 1016.1l24 24m0 -24l-24 24M2098.1 981.7l24 24m0 -24l-24 24M2098.4 888.9l24 24m0 -24l-24 24M2098.7 901.5l24 24m0 -24l-24 24M2099.0 985.1l24 24m0 -24l-24 24M2099.2 964.1l24 24m0 -24l-24 24M2099.5 1023.7l24 24m0 -24l-24 24M2099.8 986.0l24 24m0 -24l-24 24M2100.1 883.5l24 24m0 -24l-24 24M2100.4 928.9l24 24m0 -24l-24 24M2100.7 1040.3l24 24m0 -24l-24 24M2101.0 895.1l24 24m0 -24l-24 24M2101.3 963.9l24 24m0 -24l-24 24M2101.6 1007.6l24 24m0 -24l-24 24M2101.9 864.2l24 24m0 -24l-24 24M2102.2 1027.3l24 24m0 -24l-24 24M2102.5 1123.5l24 24m0 -24l-24 24M2102.7 1252.8l24 24m0 -24l-24 24M2103.0 977.6l24 24m0 -24l-24 24M2103.3 887.4l24 24m0 -24l-24 24M2103.6 917.6l24 24m0 -24l-24 24M2103.9 1088.0l24 24m0 -24l-24 24M2104.2 890.4l24 24m0 -24l-24 24M2104.5 928.0l24 24m0 -24l-24 24M2104.8 951.2l24 24m0 -24l-24 24M2105.0 953.6l24 24m0 -24l-24 24M2105.3 1042.4l24 24m0 -24l-24 24M2105.6 977.8l24 24m0 -24l-24 24M2105.9 1277.1l24 24m0 -24l-24 24M2106.2 1169.7l24 24m0 -24l-24 24M2106.5 925.3l24 24m0 -24l-24 24M2106.8 1177.9l24 24m0 -24l-24 24" stroke="#0000ff" stroke-width="3.4" fill="none"/>
<g clip-path="url(#ax)"><polyline points="307.0,224.5 490.7,234.0 598.2,327.7 674.5,388.0 733.6,508.7 781.9,424.5 822.8,515.0 858.2,562.6 889.4,632.7 917.3,621.9 942.6,554.7 965.7,519.7 986.9,615.3 1006.5,519.7 1024.8,549.5 1041.9,562.3 1058.0,468.5 1073.1,676.2 1087.5,543.2 1101.1,678.0 1114.0,659.0 1126.3,657.2 1138.1,704.0 1149.4,914.8 1160.2,724.7 1170.6,636.5 1180.6,608.7 1190.2,759.0 1199.5,659.2 1208.5,660.3 1217.2,789.0 1225.6,675.0 1233.8,677.0 1241.7,876.4 1249.4,893.0 1256.9,974.0 1264.1,651.0 1271.2,687.0 1278.1,715.0 1284.8,680.0 1291.3,700.0 1297.7,833.0 1304.0,690.0 1310.1,700.0 1316.0,935.0 1321.8,659.0 1327.5,718.6 1333.1,648.1 1338.6,887.6 1343.9,818.5 1349.2,742.2 1354.3,720.1 1359.4,648.1 1364.3,764.6 1369.2,915.0 1374.0,728.7 1378.7,800.0 1383.3,823.3 1387.8,754.7 1392.3,795.1 1396.6,747.7 1401.0,809.1 1405.2,705.8 1409.4,685.8 1413.5,915.0 1417.5,794.0 1421.5,802.5 1425.4,682.9 1429.3,680.2 1433.1,674.5 1436.9,848.8 1440.6,644.9 1444.2,732.1 1447.9,689.2 1451.4,820.5 1454.9,795.8 1458.4,957.0 1461.8,764.8 1465.2,754.2 1468.5,840.8 1471.8,986.0 1475.1,1064.0 1478.3,977.5 1481.4,656.2 1484.6,944.8 1487.7,757.8 1490.8,727.6 1493.8,836.9 1496.8,807.1 1499.7,741.3 1502.7,739.0 1505.6,888.7 1508.4,760.5 1511.3,736.3 1514.1,698.8 1516.8,717.8 1519.6,938.0 1522.3,788.4 1525.0,777.6 1527.7,735.9 1530.3,711.7 1532.9,788.3 1535.5,753.2 1538.1,769.8 1540.6,960.0 1543.1,833.5 1545.6,762.9 1548.1,757.6 1550.5,773.8 1552.9,756.0 1555.3,804.5 1557.7,756.7 1560.1,836.8 1562.4,729.9 1564.7,744.4 1567.0,913.5 1569.3,768.9 1571.5,795.4 1573.8,750.0 1576.0,950.0 1578.2,702.3 1580.4,724.7 1582.5,833.9 1584.7,811.3 1586.8,877.8 1588.9,865.5 1591.0,859.6 1593.1,842.0 1595.2,726.4 1597.2,863.2 1599.2,726.5 1601.3,708.3 1603.3,749.2 1605.2,948.6 1607.2,714.4 1609.2,922.5 1611.1,763.6 1613.0,808.2 1615.0,779.7 1616.9,878.1 1618.7,894.0 1620.6,762.4 1622.5,777.9 1624.3,761.1 1626.2,791.8 1628.0,911.9 1629.8,869.7 1631.6,848.3 1633.4,842.3 1635.1,1208.6 1636.9,910.1 1638.6,682.9 1640.4,816.8 1642.1,930.5 1643.8,793.4 1645.5,779.9 1647.2,747.1 1648.9,848.2 1650.6,829.0 1652.2,747.4 1653.9,947.7 1655.5,749.7 1657.2,795.5 1658.8,924.7 1660.4,792.0 1662.0,926.0 1663.6,782.0 1665.2,1075.8 1666.8,1028.0 1668.3,852.1 1669.9,750.8 1671.4,738.3 1673.0,866.3 1674.5,1088.9 1676.0,784.7 1677.5,764.9 1679.0,740.5 1680.5,768.5 1682.0,916.8 1683.5,942.2 1684.9,781.3 1686.4,839.3 1687.8,924.6 1689.3,813.8 1690.7,929.3 1692.2,819.9 1693.6,837.3 1695.0,827.0 1696.4,705.9 1697.8,843.0 1699.2,832.1 1700.6,754.9 1701.9,757.9 1703.3,911.2 1704.7,801.8 1706.0,812.4 1707.4,821.7 1708.7,857.2 1710.1,865.0 1711.4,971.7 1712.7,1025.2 1714.0,892.2 1715.3,1115.4 1716.6,800.2 1717.9,768.0 1719.2,912.1 1720.5,849.4 1721.8,1132.1 1723.1,879.1 1724.3,736.7 1725.6,985.8 1726.8,786.6 1728.1,812.7 1729.3,927.2 1730.6,895.2 1731.8,926.5 1733.0,798.8 1734.2,813.3 1735.4,1030.2 1736.7,883.5 1737.9,864.4 1739.1,860.5 1740.2,852.0 1741.4,853.7 1742.6,890.8 1743.8,1019.1 1745.0,864.6 1746.1,1124.3 1747.3,866.2 1748.4,838.5 1749.6,835.4 1750.7,850.0 1751.9,899.6 1753.0,895.4 1754.1,819.5 1755.3,853.3 1756.4,716.2 1757.5,851.4 1758.6,831.3 1759.7,874.8 1760.8,903.4 1761.9,764.5 1763.0,905.4 1764.1,784.9 1765.2,819.5 1766.3,838.2 1767.3,896.3 1768.4,985.1 1769.5,813.2 1770.5,878.6 1771.6,766.5 1772.7,826.1 1773.7,884.1 1774.7,1001.4 1775.8,910.3 1776.8,989.0 1777.9,882.5 1778.9,861.5 1779.9,829.9 1780.9,872.7 1782.0,865.6 1783.0,789.9 1784.0,848.0 1785.0,898.5 1786.0,1007.1 1787.0,877.8 1788.0,827.8 1789.0,829.0 1790.0,836.0 1790.9,843.7 1791.9,941.1 1792.9,798.8 1793.9,902.0 1794.8,1021.6 1795.8,956.7 1796.8,863.6 1797.7,924.6 1798.7,1090.2 1799.6,1006.0 1800.6,946.6 1801.5,1017.4 1802.5,965.7 1803.4,924.1 1804.3,908.6 1805.3,843.3 1806.2,869.5 1807.1,813.9 1808.0,948.1 1809.0,1077.5 1809.9,809.7 1810.8,902.6 1811.7,818.5 1812.6,834.8 1813.5,878.2 1814.4,842.4 1815.3,1041.3 1816.2,891.1 1817.1,837.8 1818.0,924.7 1818.9,812.7 1819.7,821.3 1820.6,913.3 1821.5,831.7 1822.4,839.9 1823.2,883.9 1824.1,813.9 1825.0,965.6 1825.8,799.6 1826.7,947.5 1827.6,849.0 1828.4,882.3 1829.3,912.6 1830.1,872.1 1831.0,892.5 1831.8,912.7 1832.6,945.5 1833.5,847.1 1834.3,838.4 1835.1,961.9 1836.0,826.7 1836.8,822.4 1837.6,867.0 1838.4,864.6 1839.3,964.1 1840.1,998.1 1840.9,852.2 1841.7,947.0 1842.5,1229.1 1843.3,966.8 1844.1,868.1 1844.9,974.9 1845.7,944.6 1846.5,1023.4 1847.3,909.0 1848.1,919.4 1848.9,1002.5 1849.7,1079.6 1850.5,828.7 1851.3,830.9 1852.0,886.3 1852.8,838.6 1853.6,948.1 1854.4,1071.6 1855.1,853.3 1855.9,914.4 1856.7,913.4 1857.4,946.7 1858.2,817.7 1859.0,904.4 1859.7,896.3 1860.5,1054.5 1861.2,878.8 1862.0,837.8 1862.7,928.9 1863.5,934.5 1864.2,958.2 1865.0,985.6 1865.7,968.8 1866.5,901.2 1867.2,878.6 1867.9,914.0 1868.7,797.2 1869.4,1070.0 1870.1,890.0 1870.8,911.1 1871.6,1030.6 1872.3,1028.1 1873.0,976.2 1873.7,1021.3 1874.5,902.0 1875.2,822.5 1875.9,979.7 1876.6,804.2 1877.3,903.3 1878.0,922.4 1878.7,895.2 1879.4,1058.7 1880.1,932.6 1880.8,880.5 1881.5,899.7 1882.2,905.0 1882.9,1032.6 1883.6,957.3 1884.3,1036.3 1885.0,937.7 1885.7,892.7 1886.4,893.2 1887.0,1176.5 1887.7,838.4 1888.4,945.7 1889.1,1011.4 1889.8,1054.6 1890.4,839.5 1891.1,908.9 1891.8,923.5 1892.5,1100.7 1893.1,848.1 1893.8,911.6 1894.5,956.9 1895.1,946.1 1895.8,927.0 1896.4,920.6 1897.1,855.8 1897.8,1007.3 1898.4,918.8 1899.1,892.9 1899.7,932.3 1900.4,848.2 1901.0,843.4 1901.7,919.9 1902.3,932.9 1903.0,917.6 1903.6,910.1 1904.2,982.0 1904.9,1044.9 1905.5,957.3 1906.2,940.1 1906.8,896.1 1907.4,942.3 1908.1,973.6 1908.7,1014.9 1909.3,932.9 1909.9,999.0 1910.6,1001.0 1911.2,894.3 1911.8,1005.3 1912.4,916.6 1913.1,905.2 1913.7,923.3 1914.3,952.4 1914.9,935.3 1915.5,913.6 1916.1,854.3 1916.7,901.5 1917.4,1131.6 1918.0,941.1 1918.6,976.6 1919.2,882.5 1919.8,992.9 1920.4,896.7 1921.0,893.6 1921.6,917.5 1922.2,985.4 1922.8,928.5 1923.4,863.0 1924.0,992.9 1924.6,1010.5 1925.2,988.7 1925.8,864.3 1926.3,924.6 1926.9,870.0 1927.5,1089.1 1928.1,995.1 1928.7,1146.4 1929.3,990.0 1929.9,932.8 1930.4,1021.2 1931.0,896.6 1931.6,1000.5 1932.2,1028.3 1932.7,1038.0 1933.3,979.6 1933.9,1082.3 1934.5,877.8 1935.0,934.8 1935.6,859.3 1936.2,906.0 1936.7,854.2 1937.3,933.4 1937.9,901.6 1938.4,1070.1 1939.0,928.5 1939.6,908.9 1940.1,1026.5 1940.7,1015.8 1941.2,950.4 1941.8,955.9 1942.3,1106.8 1942.9,1015.5 1943.4,844.6 1944.0,954.5 1944.6,1048.2 1945.1,924.2 1945.6,1012.0 1946.2,938.1 1946.7,828.0 1947.3,882.0 1947.8,974.6 1948.4,991.0 1948.9,884.0 1949.5,941.3 1950.0,937.7 1950.5,1006.7 1951.1,1033.5 1951.6,949.9 1952.1,928.1 1952.7,915.9 1953.2,922.3 1953.7,1017.8 1954.3,923.2 1954.8,1256.4 1955.3,1149.9 1955.9,837.7 1956.4,945.3 1956.9,899.1 1957.4,852.2 1958.0,948.6 1958.5,1062.2 1959.0,888.4 1959.5,1047.4 1960.0,1023.9 1960.6,917.4 1961.1,926.3 1961.6,1010.7 1962.1,947.4 1962.6,929.4 1963.1,986.6 1963.6,1124.9 1964.2,874.9 1964.7,1065.5 1965.2,923.4 1965.7,920.1 1966.2,918.3 1966.7,917.1 1967.2,897.8 1967.7,910.1 1968.2,900.4 1968.7,910.3 1969.2,907.8 1969.7,880.5 1970.2,885.1 1970.7,894.2 1971.2,883.8 1971.7,858.8 1972.2,856.2 1972.7,853.0 1973.2,869.7 1973.7,860.3 1974.2,845.5 1974.7,877.3 1975.2,842.9 1975.6,857.1 1976.1,810.3 1976.6,864.9 1977.1,813.7 1977.6,792.6 1978.1,841.5 1978.6,777.8 1979.0,773.6 1979.5,850.4 1980.0,777.5 1980.5,846.0 1981.0,788.1 1981.5,790.6 1981.9,813.1 1982.4,735.0 1982.9,729.7 1983.4,786.6 1983.8,712.0 1984.3,725.2 1984.8,764.9 1985.3,725.0 1985.7,745.0 1986.2,796.6 1986.7,745.1 1987.1,784.9 1987.6,790.5 1988.1,824.3 1988.5,851.1 1989.0,765.1 1989.5,851.3 1989.9,786.9 1990.4,834.4 1990.9,791.3 1991.3,841.3 1991.8,806.0 1992.2,839.6 1992.7,866.1 1993.2,838.3 1993.6,848.1 1994.1,853.1 1994.5,870.2 1995.0,886.8 1995.4,871.4 1995.9,899.1 1996.3,879.6 1996.8,886.8 1997.2,900.2 1997.7,891.9 1998.1,912.9 1998.6,911.7 1999.0,907.4 1999.5,919.4 1999.9,918.4 2000.4,923.8 2000.8,893.9 2001.3,929.1 2001.7,925.7 2002.2,933.6 2002.6,959.0 2003.0,1000.3 2003.5,1209.8 2003.9,1043.8 2004.4,903.6 2004.8,888.6 2005.2,943.9 2005.7,910.2 2006.1,935.8 2006.5,1048.2 2007.0,1080.4 2007.4,1133.4 2007.8,1118.0 2008.3,951.0 2008.7,907.6 2009.1,886.3 2009.6,998.1 2010.0,1065.0 2010.4,968.3 2010.9,1008.8 2011.3,893.4 2011.7,980.1 2012.1,932.0 2012.6,1027.5 2013.0,1057.2 2013.4,1087.2 2013.8,1037.3 2014.3,1034.0 2014.7,975.4 2015.1,1082.4 2015.5,987.3 2015.9,1124.0 2016.4,974.9 2016.8,928.3 2017.2,1019.2 2017.6,1192.1 2018.0,964.9 2018.5,1015.9 2018.9,1063.0 2019.3,1094.9 2019.7,954.4 2020.1,1239.4 2020.5,975.6 2020.9,965.5 2021.4,946.0 2021.8,1074.0 2022.2,830.1 2022.6,917.3 2023.0,1095.7 2023.4,1023.1 2023.8,992.5 2024.2,982.5 2024.6,950.8 2025.0,1036.7 2025.4,1061.5 2025.8,972.1 2026.2,955.6 2026.7,1017.5 2027.1,1101.9 2027.5,1120.9 2027.9,961.0 2028.3,977.9 2028.7,985.4 2029.1,911.4 2029.5,894.8 2029.9,981.5 2030.3,1072.4 2030.7,1156.6 2031.1,967.4 2031.4,888.6 2031.8,1097.7 2032.2,974.6 2032.6,1190.5 2033.0,902.9 2033.4,991.2 2033.8,985.7 2034.2,965.2 2034.6,926.9 2035.0,957.3 2035.4,954.2 2035.8,960.1 2036.2,944.6 2036.6,968.2 2036.9,1104.4 2037.3,902.7 2037.7,928.1 2038.1,1029.8 2038.5,987.4 2038.9,994.7 2039.3,1126.7 2039.6,956.6 2040.0,1194.4 2040.4,909.9 2040.8,953.6 2041.2,886.3 2041.6,1013.7 2041.9,952.5 2042.3,955.4 2042.7,1094.4 2043.1,1091.0 2043.5,892.6 2043.8,878.9 2044.2,1021.4 2044.6,894.8 2045.0,952.8 2045.3,1038.9 2045.7,958.5 2046.1,941.9 2046.5,996.3 2046.8,1046.9 2047.2,899.2 2047.6,896.0 2048.0,945.9 2048.3,1064.9 2048.7,1024.7 2049.1,1153.1 2049.4,918.0 2049.8,1095.0 2050.2,950.4 2050.6,931.8 2050.9,1023.8 2051.3,1002.1 2051.7,947.5 2052.0,1060.0 2052.4,1023.2 2052.8,1213.8 2053.1,932.8 2053.5,1078.7 2053.9,941.3 2054.2,931.1 2054.6,1032.7 2054.9,971.8 2055.3,980.9 2055.7,1061.2 2056.0,1046.8 2056.4,882.9 2056.7,1057.0 2057.1,973.3 2057.5,1040.9 2057.8,898.2 2058.2,895.3 2058.5,1111.4 2058.9,966.2 2059.3,1001.1 2059.6,936.4 2060.0,928.4 2060.3,1086.8 2060.7,957.0 2061.0,945.2 2061.4,967.0 2061.7,946.8 2062.1,962.2 2062.4,1229.5 2062.8,1266.1 2063.2,1071.4 2063.5,1107.7 2063.9,1006.5 2064.2,972.1 2064.6,934.8 2064.9,1188.5 2065.3,1027.5 2065.6,916.7 2066.0,1057.6 2066.3,1040.0 2066.6,985.1 2067.0,1045.8 2067.3,1065.1 2067.7,1132.5 2068.0,931.1 2068.4,1186.7 2068.7,980.0 2069.1,1003.5 2069.4,1020.2 2069.7,868.5 2070.1,1071.6 2070.4,944.6 2070.8,1034.2 2071.1,863.2 2071.5,999.0 2071.8,1046.7 2072.1,983.7 2072.5,985.7 2072.8,1228.5 2073.2,962.2 2073.5,1083.3 2073.8,971.0 2074.2,1022.6 2074.5,980.5 2074.8,933.2 2075.2,1036.0 2075.5,1001.6 2075.9,1081.9 2076.2,985.3 2076.5,1133.3 2076.9,1066.3 2077.2,1019.9 2077.5,899.0 2077.9,923.3 2078.2,1048.4 2078.5,1101.3 2078.8,1083.2 2079.2,1117.4 2079.5,992.4 2079.8,1085.1 2080.2,965.8 2080.5,878.7 2080.8,902.9 2081.2,927.6 2081.5,1035.9 2081.8,984.8 2082.1,943.8 2082.5,893.2 2082.8,995.1 2083.1,860.4 2083.4,935.6 2083.8,1045.6 2084.1,925.2 2084.4,1126.0 2084.7,1172.5 2085.1,995.2 2085.4,1014.8 2085.7,876.4 2086.0,1093.2 2086.4,1112.5 2086.7,1052.5 2087.0,1071.1 2087.3,1032.5 2087.6,943.4 2088.0,1012.6 2088.3,918.9 2088.6,931.4 2088.9,982.3 2089.2,929.6 2089.6,1328.7 2089.9,1132.1 2090.2,966.2 2090.5,1000.3 2090.8,963.0 2091.2,903.9 2091.5,925.2 2091.8,894.7 2092.1,955.7 2092.4,1046.3 2092.7,967.3 2093.0,992.6 2093.4,1036.3 2093.7,999.2 2094.0,936.2 2094.3,1102.3 2094.6,940.2 2094.9,1061.1 2095.2,925.9 2095.5,1149.6 2095.9,1053.3 2096.2,1065.8 2096.5,1048.1 2096.8,977.9 2097.1,979.3 2097.4,1151.6 2097.7,1044.3 2098.0,1156.2 2098.3,933.2 2098.6,932.1 2098.9,1219.5 2099.2,951.1 2099.6,1062.9 2099.9,1157.6 2100.2,988.6 2100.5,919.8 2100.8,986.9 2101.1,1011.4 2101.4,877.5 2101.7,1049.5 2102.0,1083.5 2102.3,1004.5 2102.6,899.5 2102.9,973.5 2103.2,1007.3 2103.5,1080.9 2103.8,962.6 2104.1,965.0 2104.4,1135.0 2104.7,1105.1 2105.0,1010.2 2105.3,1000.9 2105.6,947.0 2105.9,946.9 2106.2,1003.1 2106.5,976.7 2106.8,946.5 2107.1,1092.7 2107.4,1114.1 2107.7,932.2 2108.0,1065.5 2108.3,1089.6 2108.6,1067.0 2108.9,935.0 2109.2,983.4 2109.5,1019.7 2109.8,1009.3 2110.1,1128.9 2110.4,968.4 2110.7,1016.5 2111.0,1057.7 2111.2,1055.1 2111.5,968.7 2111.8,975.7 2112.1,987.7 2112.4,984.7 2112.7,967.1 2113.0,910.2 2113.3,918.1 2113.6,909.3 2113.9,1016.9 2114.2,984.6 2114.5,1009.4 2114.7,954.1 2115.0,999.7 2115.3,933.2 2115.6,949.6 2115.9,1153.9 2116.2,1075.3 2116.5,1175.4 2116.8,1141.1 2117.0,942.9 2117.3,932.8 2117.6,980.3 2117.9,935.6 2118.2,1010.3 2118.5,957.2 2118.8,1145.5" fill="none" stroke="#60d414" stroke-width="6.5" stroke-linejoin="round"/></g>
<path d="M290.0 224.5h34m-17 -17v34M473.7 234.0h34m-17 -17v34M581.2 327.7h34m-17 -17v34M657.5 388.0h34m-17 -17v34M716.6 508.7h34m-17 -17v34M764.9 424.5h34m-17 -17v34M805.8 515.0h34m-17 -17v34M841.2 562.6h34m-17 -17v34M872.4 632.7h34m-17 -17v34M900.3 621.9h34m-17 -17v34M925.6 554.7h34m-17 -17v34M948.7 519.7h34m-17 -17v34M969.9 615.3h34m-17 -17v34M989.5 519.7h34m-17 -17v34M1007.8 549.5h34m-17 -17v34M1024.9 562.3h34m-17 -17v34M1041.0 468.5h34m-17 -17v34M1056.1 676.2h34m-17 -17v34M1070.5 543.2h34m-17 -17v34M1084.1 678.0h34m-17 -17v34M1097.0 659.0h34m-17 -17v34M1109.3 657.2h34m-17 -17v34M1121.1 704.0h34m-17 -17v34M1132.4 914.8h34m-17 -17v34M1143.2 724.7h34m-17 -17v34M1153.6 636.5h34m-17 -17v34M1163.6 608.7h34m-17 -17v34M1173.2 759.0h34m-17 -17v34M1182.5 659.2h34m-17 -17v34M1191.5 660.3h34m-17 -17v34M1200.2 789.0h34m-17 -17v34M1208.6 675.0h34m-17 -17v34M1216.8 677.0h34m-17 -17v34M1224.7 876.4h34m-17 -17v34M1232.4 893.0h34m-17 -17v34M1239.9 974.0h34m-17 -17v34M1247.1 651.0h34m-17 -17v34M1254.2 687.0h34m-17 -17v34M1261.1 715.0h34m-17 -17v34M1267.8 680.0h34m-17 -17v34M1274.3 700.0h34m-17 -17v34M1280.7 833.0h34m-17 -17v34M1287.0 690.0h34m-17 -17v34M1293.1 700.0h34m-17 -17v34M1299.0 935.0h34m-17 -17v34M1304.8 659.0h34m-17 -17v34M1310.5 718.6h34m-17 -17v34M1316.1 648.1h34m-17 -17v34M1321.6 887.6h34m-17 -17v34M1326.9 818.5h34m-17 -17v34M1332.2 742.2h34m-17 -17v34M1337.3 720.1h34m-17 -17v34M1342.4 648.1h34m-17 -17v34M1347.3 764.6h34m-17 -17v34M1352.2 915.0h34m-17 -17v34M1357.0 728.7h34m-17 -17v34M1361.7 800.0h34m-17 -17v34M1366.3 823.3h34m-17 -17v34M1370.8 754.7h34m-17 -17v34M1375.3 795.1h34m-17 -17v34M1379.6 747.7h34m-17 -17v34M1384.0 809.1h34m-17 -17v34M1388.2 705.8h34m-17 -17v34M1392.4 685.8h34m-17 -17v34M1396.5 915.0h34m-17 -17v34M1400.5 794.0h34m-17 -17v34M1404.5 802.5h34m-17 -17v34M1408.4 682.9h34m-17 -17v34M1412.3 680.2h34m-17 -17v34M1416.1 674.5h34m-17 -17v34M1419.9 848.8h34m-17 -17v34M1423.6 644.9h34m-17 -17v34M1427.2 732.1h34m-17 -17v34M1430.9 689.2h34m-17 -17v34M1434.4 820.5h34m-17 -17v34M1437.9 795.8h34m-17 -17v34M1441.4 957.0h34m-17 -17v34M1444.8 764.8h34m-17 -17v34M1448.2 754.2h34m-17 -17v34M1451.5 840.8h34m-17 -17v34M1454.8 986.0h34m-17 -17v34M1458.1 1064.0h34m-17 -17v34M1461.3 977.5h34m-17 -17v34M1464.4 656.2h34m-17 -17v34M1467.6 944.8h34m-17 -17v34M1470.7 757.8h34m-17 -17v34M1473.8 727.6h34m-17 -17v34M1476.8 836.9h34m-17 -17v34M1479.8 807.1h34m-17 -17v34M1482.7 741.3h34m-17 -17v34M1485.7 739.0h34m-17 -17v34M1488.6 888.7h34m-17 -17v34M1491.4 760.5h34m-17 -17v34M1494.3 736.3h34m-17 -17v34M1497.1 698.8h34m-17 -17v34M1499.8 717.8h34m-17 -17v34M1502.6 938.0h34m-17 -17v34M1505.3 788.4h34m-17 -17v34M1508.0 777.6h34m-17 -17v34M1510.7 735.9h34m-17 -17v34M1513.3 711.7h34m-17 -17v34M1515.9 788.3h34m-17 -17v34M1518.5 753.2h34m-17 -17v34M1521.1 769.8h34m-17 -17v34M1523.6 960.0h34m-17 -17v34M1526.1 833.5h34m-17 -17v34M1528.6 762.9h34m-17 -17v34M1531.1 757.6h34m-17 -17v34M1533.5 773.8h34m-17 -17v34M1535.9 756.0h34m-17 -17v34M1538.3 804.5h34m-17 -17v34M1540.7 756.7h34m-17 -17v34M1543.1 836.8h34m-17 -17v34M1545.4 729.9h34m-17 -17v34M1547.7 744.4h34m-17 -17v34M1550.0 913.5h34m-17 -17v34M1552.3 768.9h34m-17 -17v34M1554.5 795.4h34m-17 -17v34M1556.8 750.0h34m-17 -17v34M1559.0 950.0h34m-17 -17v34M1561.2 702.3h34m-17 -17v34M1563.4 724.7h34m-17 -17v34M1565.5 833.9h34m-17 -17v34M1567.7 811.3h34m-17 -17v34M1569.8 877.8h34m-17 -17v34M1571.9 865.5h34m-17 -17v34M1574.0 859.6h34m-17 -17v34M1576.1 842.0h34m-17 -17v34M1578.2 726.4h34m-17 -17v34M1580.2 863.2h34m-17 -17v34M1582.2 726.5h34m-17 -17v34M1584.3 708.3h34m-17 -17v34M1586.3 749.2h34m-17 -17v34M1588.2 948.6h34m-17 -17v34M1590.2 714.4h34m-17 -17v34M1592.2 922.5h34m-17 -17v34M1594.1 763.6h34m-17 -17v34M1596.0 808.2h34m-17 -17v34M1598.0 779.7h34m-17 -17v34M1599.9 878.1h34m-17 -17v34M1601.7 894.0h34m-17 -17v34M1603.6 762.4h34m-17 -17v34M1605.5 777.9h34m-17 -17v34M1607.3 761.1h34m-17 -17v34M1609.2 791.8h34m-17 -17v34M1611.0 911.9h34m-17 -17v34M1612.8 869.7h34m-17 -17v34M1614.6 848.3h34m-17 -17v34M1616.4 842.3h34m-17 -17v34M1618.1 1208.6h34m-17 -17v34M1619.9 910.1h34m-17 -17v34M1621.6 682.9h34m-17 -17v34M1623.4 816.8h34m-17 -17v34M1625.1 930.5h34m-17 -17v34M1626.8 793.4h34m-17 -17v34M1628.5 779.9h34m-17 -17v34M1630.2 747.1h34m-17 -17v34M1631.9 848.2h34m-17 -17v34M1633.6 829.0h34m-17 -17v34M1635.2 747.4h34m-17 -17v34M1636.9 947.7h34m-17 -17v34M1638.5 749.7h34m-17 -17v34M1640.2 795.5h34m-17 -17v34M1641.8 924.7h34m-17 -17v34M1643.4 792.0h34m-17 -17v34M1645.0 926.0h34m-17 -17v34M1646.6 782.0h34m-17 -17v34M1648.2 1075.8h34m-17 -17v34M1649.8 1028.0h34m-17 -17v34M1651.3 852.1h34m-17 -17v34M1652.9 750.8h34m-17 -17v34M1654.4 738.3h34m-17 -17v34M1656.0 866.3h34m-17 -17v34M1657.5 1088.9h34m-17 -17v34M1659.0 784.7h34m-17 -17v34M1660.5 764.9h34m-17 -17v34M1662.0 740.5h34m-17 -17v34M1663.5 768.5h34m-17 -17v34M1665.0 916.8h34m-17 -17v34M1666.5 942.2h34m-17 -17v34M1667.9 781.3h34m-17 -17v34M1669.4 839.3h34m-17 -17v34M1670.8 924.6h34m-17 -17v34M1672.3 813.8h34m-17 -17v34M1673.7 929.3h34m-17 -17v34M1675.2 819.9h34m-17 -17v34M1676.6 837.3h34m-17 -17v34M1678.0 827.0h34m-17 -17v34M1679.4 705.9h34m-17 -17v34M1680.8 843.0h34m-17 -17v34M1682.2 832.1h34m-17 -17v34M1683.6 754.9h34m-17 -17v34M1684.9 757.9h34m-17 -17v34M1686.3 911.2h34m-17 -17v34M1687.7 801.8h34m-17 -17v34M1689.0 812.4h34m-17 -17v34M1690.4 821.7h34m-17 -17v34M1691.7 857.2h34m-17 -17v34M1693.1 865.0h34m-17 -17v34M1694.4 971.7h34m-17 -17v34M1695.7 1025.2h34m-17 -17v34M1697.0 892.2h34m-17 -17v34M1698.3 1115.4h34m-17 -17v34M1699.6 800.2h34m-17 -17v34M1700.9 768.0h34m-17 -17v34M1702.2 912.1h34m-17 -17v34M1703.5 849.4h34m-17 -17v34M1704.8 1132.1h34m-17 -17v34M1706.1 879.1h34m-17 -17v34M1707.3 736.7h34m-17 -17v34M1708.6 985.8h34m-17 -17v34M1709.8 786.6h34m-17 -17v34M1711.1 812.7h34m-17 -17v34M1712.3 927.2h34m-17 -17v34M1713.6 895.2h34m-17 -17v34M1714.8 926.5h34m-17 -17v34M1716.0 798.8h34m-17 -17v34M1717.2 813.3h34m-17 -17v34M1718.4 1030.2h34m-17 -17v34M1719.7 883.5h34m-17 -17v34M1720.9 864.4h34m-17 -17v34M1722.1 860.5h34m-17 -17v34M1723.2 852.0h34m-17 -17v34M1724.4 853.7h34m-17 -17v34M1725.6 890.8h34m-17 -17v34M1726.8 1019.1h34m-17 -17v34M1728.0 864.6h34m-17 -17v34M1729.1 1124.3h34m-17 -17v34M1730.3 866.2h34m-17 -17v34M1731.4 838.5h34m-17 -17v34M1732.6 835.4h34m-17 -17v34M1733.7 850.0h34m-17 -17v34M1734.9 899.6h34m-17 -17v34M1736.0 895.4h34m-17 -17v34M1737.1 819.5h34m-17 -17v34M1738.3 853.3h34m-17 -17v34M1739.4 716.2h34m-17 -17v34M1740.5 851.4h34m-17 -17v34M1741.6 831.3h34m-17 -17v34M1742.7 874.8h34m-17 -17v34M1743.8 903.4h34m-17 -17v34M1744.9 764.5h34m-17 -17v34M1746.0 905.4h34m-17 -17v34M1747.1 784.9h34m-17 -17v34M1748.2 819.5h34m-17 -17v34M1749.3 838.2h34m-17 -17v34M1750.3 896.3h34m-17 -17v34M1751.4 985.1h34m-17 -17v34M1752.5 813.2h34m-17 -17v34M1753.5 878.6h34m-17 -17v34M1754.6 766.5h34m-17 -17v34M1755.7 826.1h34m-17 -17v34M1756.7 884.1h34m-17 -17v34M1757.7 1001.4h34m-17 -17v34M1758.8 910.3h34m-17 -17v34M1759.8 989.0h34m-17 -17v34M1760.9 882.5h34m-17 -17v34M1761.9 861.5h34m-17 -17v34M1762.9 829.9h34m-17 -17v34M1763.9 872.7h34m-17 -17v34M1765.0 865.6h34m-17 -17v34M1766.0 789.9h34m-17 -17v34M1767.0 848.0h34m-17 -17v34M1768.0 898.5h34m-17 -17v34M1769.0 1007.1h34m-17 -17v34M1770.0 877.8h34m-17 -17v34M1771.0 827.8h34m-17 -17v34M1772.0 829.0h34m-17 -17v34M1773.0 836.0h34m-17 -17v34M1773.9 843.7h34m-17 -17v34M1774.9 941.1h34m-17 -17v34M1775.9 798.8h34m-17 -17v34M1776.9 902.0h34m-17 -17v34M1777.8 1021.6h34m-17 -17v34M1778.8 956.7h34m-17 -17v34M1779.8 863.6h34m-17 -17v34M1780.7 924.6h34m-17 -17v34M1781.7 1090.2h34m-17 -17v34M1782.6 1006.0h34m-17 -17v34M1783.6 946.6h34m-17 -17v34M1784.5 1017.4h34m-17 -17v34M1785.5 965.7h34m-17 -17v34M1786.4 924.1h34m-17 -17v34M1787.3 908.6h34m-17 -17v34M1788.3 843.3h34m-17 -17v34M1789.2 869.5h34m-17 -17v34M1790.1 813.9h34m-17 -17v34M1791.0 948.1h34m-17 -17v34M1792.0 1077.5h34m-17 -17v34M1792.9 809.7h34m-17 -17v34M1793.8 902.6h34m-17 -17v34M1794.7 818.5h34m-17 -17v34M1795.6 834.8h34m-17 -17v34M1796.5 878.2h34m-17 -17v34M1797.4 842.4h34m-17 -17v34M1798.3 1041.3h34m-17 -17v34M1799.2 891.1h34m-17 -17v34M1800.1 837.8h34m-17 -17v34M1801.0 924.7h34m-17 -17v34M1801.9 812.7h34m-17 -17v34M1802.7 821.3h34m-17 -17v34M1803.6 913.3h34m-17 -17v34M1804.5 831.7h34m-17 -17v34M1805.4 839.9h34m-17 -17v34M1806.2 883.9h34m-17 -17v34M1807.1 813.9h34m-17 -17v34M1808.0 965.6h34m-17 -17v34M1808.8 799.6h34m-17 -17v34M1809.7 947.5h34m-17 -17v34M1810.6 849.0h34m-17 -17v34M1811.4 882.3h34m-17 -17v34M1812.3 912.6h34m-17 -17v34M1813.1 872.1h34m-17 -17v34M1814.0 892.5h34m-17 -17v34M1814.8 912.7h34m-17 -17v34M1815.6 945.5h34m-17 -17v34M1816.5 847.1h34m-17 -17v34M1817.3 838.4h34m-17 -17v34M1818.1 961.9h34m-17 -17v34M1819.0 826.7h34m-17 -17v34M1819.8 822.4h34m-17 -17v34M1820.6 867.0h34m-17 -17v34M1821.4 864.6h34m-17 -17v34M1822.3 964.1h34m-17 -17v34M1823.1 998.1h34m-17 -17v34M1823.9 852.2h34m-17 -17v34M1824.7 947.0h34m-17 -17v34M1825.5 1229.1h34m-17 -17v34M1826.3 966.8h34m-17 -17v34M1827.1 868.1h34m-17 -17v34M1827.9 974.9h34m-17 -17v34M1828.7 944.6h34m-17 -17v34M1829.5 1023.4h34m-17 -17v34M1830.3 909.0h34m-17 -17v34M1831.1 919.4h34m-17 -17v34M1831.9 1002.5h34m-17 -17v34M1832.7 1079.6h34m-17 -17v34M1833.5 828.7h34m-17 -17v34M1834.3 830.9h34m-17 -17v34M1835.0 886.3h34m-17 -17v34M1835.8 838.6h34m-17 -17v34M1836.6 948.1h34m-17 -17v34M1837.4 1071.6h34m-17 -17v34M1838.1 853.3h34m-17 -17v34M1838.9 914.4h34m-17 -17v34M1839.7 913.4h34m-17 -17v34M1840.4 946.7h34m-17 -17v34M1841.2 817.7h34m-17 -17v34M1842.0 904.4h34m-17 -17v34M1842.7 896.3h34m-17 -17v34M1843.5 1054.5h34m-17 -17v34M1844.2 878.8h34m-17 -17v34M1845.0 837.8h34m-17 -17v34M1845.7 928.9h34m-17 -17v34M1846.5 934.5h34m-17 -17v34M1847.2 958.2h34m-17 -17v34M1848.0 985.6h34m-17 -17v34M1848.7 968.8h34m-17 -17v34M1849.5 901.2h34m-17 -17v34M1850.2 878.6h34m-17 -17v34M1850.9 914.0h34m-17 -17v34M1851.7 797.2h34m-17 -17v34M1852.4 1070.0h34m-17 -17v34M1853.1 890.0h34m-17 -17v34M1853.8 911.1h34m-17 -17v34M1854.6 1030.6h34m-17 -17v34M1855.3 1028.1h34m-17 -17v34M1856.0 976.2h34m-17 -17v34M1856.7 1021.3h34m-17 -17v34M1857.5 902.0h34m-17 -17v34M1858.2 822.5h34m-17 -17v34M1858.9 979.7h34m-17 -17v34M1859.6 804.2h34m-17 -17v34M1860.3 903.3h34m-17 -17v34M1861.0 922.4h34m-17 -17v34M1861.7 895.2h34m-17 -17v34M1862.4 1058.7h34m-17 -17v34M1863.1 932.6h34m-17 -17v34M1863.8 880.5h34m-17 -17v34M1864.5 899.7h34m-17 -17v34M1865.2 905.0h34m-17 -17v34M1865.9 1032.6h34m-17 -17v34M1866.6 957.3h34m-17 -17v34M1867.3 1036.3h34m-17 -17v34M1868.0 937.7h34m-17 -17v34M1868.7 892.7h34m-17 -17v34M1869.4 893.2h34m-17 -17v34M1870.0 1176.5h34m-17 -17v34M1870.7 838.4h34m-17 -17v34M1871.4 945.7h34m-17 -17v34M1872.1 1011.4h34m-17 -17v34M1872.8 1054.6h34m-17 -17v34M1873.4 839.5h34m-17 -17v34M1874.1 908.9h34m-17 -17v34M1874.8 923.5h34m-17 -17v34M1875.5 1100.7h34m-17 -17v34M1876.1 848.1h34m-17 -17v34M1876.8 911.6h34m-17 -17v34M1877.5 956.9h34m-17 -17v34M1878.1 946.1h34m-17 -17v34M1878.8 927.0h34m-17 -17v34M1879.4 920.6h34m-17 -17v34M1880.1 855.8h34m-17 -17v34M1880.8 1007.3h34m-17 -17v34M1881.4 918.8h34m-17 -17v34M1882.1 892.9h34m-17 -17v34M1882.7 932.3h34m-17 -17v34M1883.4 848.2h34m-17 -17v34M1884.0 843.4h34m-17 -17v34M1884.7 919.9h34m-17 -17v34M1885.3 932.9h34m-17 -17v34M1886.0 917.6h34m-17 -17v34M1886.6 910.1h34m-17 -17v34M1887.2 982.0h34m-17 -17v34M1887.9 1044.9h34m-17 -17v34M1888.5 957.3h34m-17 -17v34M1889.2 940.1h34m-17 -17v34M1889.8 896.1h34m-17 -17v34M1890.4 942.3h34m-17 -17v34M1891.1 973.6h34m-17 -17v34M1891.7 1014.9h34m-17 -17v34M1892.3 932.9h34m-17 -17v34M1892.9 999.0h34m-17 -17v34M1893.6 1001.0h34m-17 -17v34M1894.2 894.3h34m-17 -17v34M1894.8 1005.3h34m-17 -17v34M1895.4 916.6h34m-17 -17v34M1896.1 905.2h34m-17 -17v34M1896.7 923.3h34m-17 -17v34M1897.3 952.4h34m-17 -17v34M1897.9 935.3h34m-17 -17v34M1898.5 913.6h34m-17 -17v34M1899.1 854.3h34m-17 -17v34M1899.7 901.5h34m-17 -17v34M1900.4 1131.6h34m-17 -17v34M1901.0 941.1h34m-17 -17v34M1901.6 976.6h34m-17 -17v34M1902.2 882.5h34m-17 -17v34M1902.8 992.9h34m-17 -17v34M1903.4 896.7h34m-17 -17v34M1904.0 893.6h34m-17 -17v34M1904.6 917.5h34m-17 -17v34M1905.2 985.4h34m-17 -17v34M1905.8 928.5h34m-17 -17v34M1906.4 863.0h34m-17 -17v34M1907.0 992.9h34m-17 -17v34M1907.6 1010.5h34m-17 -17v34M1908.2 988.7h34m-17 -17v34M1908.8 864.3h34m-17 -17v34M1909.3 924.6h34m-17 -17v34M1909.9 870.0h34m-17 -17v34M1910.5 1089.1h34m-17 -17v34M1911.1 995.1h34m-17 -17v34M1911.7 1146.4h34m-17 -17v34M1912.3 990.0h34m-17 -17v34M1912.9 932.8h34m-17 -17v34M1913.4 1021.2h34m-17 -17v34M1914.0 896.6h34m-17 -17v34M1914.6 1000.5h34m-17 -17v34M1915.2 1028.3h34m-17 -17v34M1915.7 1038.0h34m-17 -17v34M1916.3 979.6h34m-17 -17v34M1916.9 1082.3h34m-17 -17v34M1917.5 877.8h34m-17 -17v34M1918.0 934.8h34m-17 -17v34M1918.6 859.3h34m-17 -17v34M1919.2 906.0h34m-17 -17v34M1919.7 854.2h34m-17 -17v34M1920.3 933.4h34m-17 -17v34M1920.9 901.6h34m-17 -17v34M1921.4 1070.1h34m-17 -17v34M1922.0 928.5h34m-17 -17v34M1922.6 908.9h34m-17 -17v34M1923.1 1026.5h34m-17 -17v34M1923.7 1015.8h34m-17 -17v34M1924.2 950.4h34m-17 -17v34M1924.8 955.9h34m-17 -17v34M1925.3 1106.8h34m-17 -17v34M1925.9 1015.5h34m-17 -17v34M1926.4 844.6h34m-17 -17v34M1927.0 954.5h34m-17 -17v34M1927.6 1048.2h34m-17 -17v34M1928.1 924.2h34m-17 -17v34M1928.6 1012.0h34m-17 -17v34M1929.2 938.1h34m-17 -17v34M1929.7 828.0h34m-17 -17v34M1930.3 882.0h34m-17 -17v34M1930.8 974.6h34m-17 -17v34M1931.4 991.0h34m-17 -17v34M1931.9 884.0h34m-17 -17v34M1932.5 941.3h34m-17 -17v34M1933.0 937.7h34m-17 -17v34M1933.5 1006.7h34m-17 -17v34M1934.1 1033.5h34m-17 -17v34M1934.6 949.9h34m-17 -17v34M1935.1 928.1h34m-17 -17v34M1935.7 915.9h34m-17 -17v34M1936.2 922.3h34m-17 -17v34M1936.7 1017.8h34m-17 -17v34M1937.3 923.2h34m-17 -17v34M1937.8 1256.4h34m-17 -17v34M1938.3 1149.9h34m-17 -17v34M1938.9 837.7h34m-17 -17v34M1939.4 945.3h34m-17 -17v34M1939.9 899.1h34m-17 -17v34M1940.4 852.2h34m-17 -17v34M1941.0 948.6h34m-17 -17v34M1941.5 1062.2h34m-17 -17v34M1942.0 888.4h34m-17 -17v34M1942.5 1047.4h34m-17 -17v34M1943.0 1023.9h34m-17 -17v34M1943.6 917.4h34m-17 -17v34M1944.1 926.3h34m-17 -17v34M1944.6 1010.7h34m-17 -17v34M1945.1 947.4h34m-17 -17v34M1945.6 929.4h34m-17 -17v34M1946.1 986.6h34m-17 -17v34M1946.6 1124.9h34m-17 -17v34M1947.2 874.9h34m-17 -17v34M1947.7 1065.5h34m-17 -17v34M1948.2 923.4h34m-17 -17v34M1948.7 920.1h34m-17 -17v34M1949.2 918.3h34m-17 -17v34M1949.7 917.1h34m-17 -17v34M1950.2 897.8h34m-17 -17v34M1950.7 910.1h34m-17 -17v34M1951.2 900.4h34m-17 -17v34M1951.7 910.3h34m-17 -17v34M1952.2 907.8h34m-17 -17v34M1952.7 880.5h34m-17 -17v34M1953.2 885.1h34m-17 -17v34M1953.7 894.2h34m-17 -17v34M1954.2 883.8h34m-17 -17v34M1954.7 858.8h34m-17 -17v34M1955.2 856.2h34m-17 -17v34M1955.7 853.0h34m-17 -17v34M1956.2 869.7h34m-17 -17v34M1956.7 860.3h34m-17 -17v34M1957.2 845.5h34m-17 -17v34M1957.7 877.3h34m-17 -17v34M1958.2 842.9h34m-17 -17v34M1958.6 857.1h34m-17 -17v34M1959.1 810.3h34m-17 -17v34M1959.6 864.9h34m-17 -17v34M1960.1 813.7h34m-17 -17v34M1960.6 792.6h34m-17 -17v34M1961.1 841.5h34m-17 -17v34M1961.6 777.8h34m-17 -17v34M1962.0 773.6h34m-17 -17v34M1962.5 850.4h34m-17 -17v34M1963.0 777.5h34m-17 -17v34M1963.5 846.0h34m-17 -17v34M1964.0 788.1h34m-17 -17v34M1964.5 790.6h34m-17 -17v34M1964.9 813.1h34m-17 -17v34M1965.4 735.0h34m-17 -17v34M1965.9 729.7h34m-17 -17v34M1966.4 786.6h34m-17 -17v34M1966.8 712.0h34m-17 -17v34M1967.3 725.2h34m-17 -17v34M1967.8 764.9h34m-17 -17v34M1968.3 725.0h34m-17 -17v34M1968.7 745.0h34m-17 -17v34M1969.2 796.6h34m-17 -17v34M1969.7 745.1h34m-17 -17v34M1970.1 784.9h34m-17 -17v34M1970.6 790.5h34m-17 -17v34M1971.1 824.3h34m-17 -17v34M1971.5 851.1h34m-17 -17v34M1972.0 765.1h34m-17 -17v34M1972.5 851.3h34m-17 -17v34M1972.9 786.9h34m-17 -17v34M1973.4 834.4h34m-17 -17v34M1973.9 791.3h34m-17 -17v34M1974.3 841.3h34m-17 -17v34M1974.8 806.0h34m-17 -17v34M1975.2 839.6h34m-17 -17v34M1975.7 866.1h34m-17 -17v34M1976.2 838.3h34m-17 -17v34M1976.6 848.1h34m-17 -17v34M1977.1 853.1h34m-17 -17v34M1977.5 870.2h34m-17 -17v34M1978.0 886.8h34m-17 -17v34M1978.4 871.4h34m-17 -17v34M1978.9 899.1h34m-17 -17v34M1979.3 879.6h34m-17 -17v34M1979.8 886.8h34m-17 -17v34M1980.2 900.2h34m-17 -17v34M1980.7 891.9h34m-17 -17v34M1981.1 912.9h34m-17 -17v34M1981.6 911.7h34m-17 -17v34M1982.0 907.4h34m-17 -17v34M1982.5 919.4h34m-17 -17v34M1982.9 918.4h34m-17 -17v34M1983.4 923.8h34m-17 -17v34M1983.8 893.9h34m-17 -17v34M1984.3 929.1h34m-17 -17v34M1984.7 925.7h34m-17 -17v34M1985.2 933.6h34m-17 -17v34M1985.6 959.0h34m-17 -17v34M1986.0 1000.3h34m-17 -17v34M1986.5 1209.8h34m-17 -17v34M1986.9 1043.8h34m-17 -17v34M1987.4 903.6h34m-17 -17v34M1987.8 888.6h34m-17 -17v34M1988.2 943.9h34m-17 -17v34M1988.7 910.2h34m-17 -17v34M1989.1 935.8h34m-17 -17v34M1989.5 1048.2h34m-17 -17v34M1990.0 1080.4h34m-17 -17v34M1990.4 1133.4h34m-17 -17v34M1990.8 1118.0h34m-17 -17v34M1991.3 951.0h34m-17 -17v34M1991.7 907.6h34m-17 -17v34M1992.1 886.3h34m-17 -17v34M1992.6 998.1h34m-17 -17v34M1993.0 1065.0h34m-17 -17v34M1993.4 968.3h34m-17 -17v34M1993.9 1008.8h34m-17 -17v34M1994.3 893.4h34m-17 -17v34M1994.7 980.1h34m-17 -17v34M1995.1 932.0h34m-17 -17v34M1995.6 1027.5h34m-17 -17v34M1996.0 1057.2h34m-17 -17v34M1996.4 1087.2h34m-17 -17v34M1996.8 1037.3h34m-17 -17v34M1997.3 1034.0h34m-17 -17v34M1997.7 975.4h34m-17 -17v34M1998.1 1082.4h34m-17 -17v34M1998.5 987.3h34m-17 -17v34M1998.9 1124.0h34m-17 -17v34M1999.4 974.9h34m-17 -17v34M1999.8 928.3h34m-17 -17v34M2000.2 1019.2h34m-17 -17v34M2000.6 1192.1h34m-17 -17v34M2001.0 964.9h34m-17 -17v34M2001.5 1015.9h34m-17 -17v34M2001.9 1063.0h34m-17 -17v34M2002.3 1094.9h34m-17 -17v34M2002.7 954.4h34m-17 -17v34M2003.1 1239.4h34m-17 -17v34M2003.5 975.6h34m-17 -17v34M2003.9 965.5h34m-17 -17v34M2004.4 946.0h34m-17 -17v34M2004.8 1074.0h34m-17 -17v34M2005.2 830.1h34m-17 -17v34M2005.6 917.3h34m-17 -17v34M2006.0 1095.7h34m-17 -17v34M2006.4 1023.1h34m-17 -17v34M2006.8 992.5h34m-17 -17v34M2007.2 982.5h34m-17 -17v34M2007.6 950.8h34m-17 -17v34M2008.0 1036.7h34m-17 -17v34M2008.4 1061.5h34m-17 -17v34M2008.8 972.1h34m-17 -17v34M2009.2 955.6h34m-17 -17v34M2009.7 1017.5h34m-17 -17v34M2010.1 1101.9h34m-17 -17v34M2010.5 1120.9h34m-17 -17v34M2010.9 961.0h34m-17 -17v34M2011.3 977.9h34m-17 -17v34M2011.7 985.4h34m-17 -17v34M2012.1 911.4h34m-17 -17v34M2012.5 894.8h34m-17 -17v34M2012.9 981.5h34m-17 -17v34M2013.3 1072.4h34m-17 -17v34M2013.7 1156.6h34m-17 -17v34M2014.1 967.4h34m-17 -17v34M2014.4 888.6h34m-17 -17v34M2014.8 1097.7h34m-17 -17v34M2015.2 974.6h34m-17 -17v34M2015.6 1190.5h34m-17 -17v34M2016.0 902.9h34m-17 -17v34M2016.4 991.2h34m-17 -17v34M2016.8 985.7h34m-17 -17v34M2017.2 965.2h34m-17 -17v34M2017.6 926.9h34m-17 -17v34M2018.0 957.3h34m-17 -17v34M2018.4 954.2h34m-17 -17v34M2018.8 960.1h34m-17 -17v34M2019.2 944.6h34m-17 -17v34M2019.6 968.2h34m-17 -17v34M2019.9 1104.4h34m-17 -17v34M2020.3 902.7h34m-17 -17v34M2020.7 928.1h34m-17 -17v34M2021.1 1029.8h34m-17 -17v34M2021.5 987.4h34m-17 -17v34M2021.9 994.7h34m-17 -17v34M2022.3 1126.7h34m-17 -17v34M2022.6 956.6h34m-17 -17v34M2023.0 1194.4h34m-17 -17v34M2023.4 909.9h34m-17 -17v34M2023.8 953.6h34m-17 -17v34M2024.2 886.3h34m-17 -17v34M2024.6 1013.7h34m-17 -17v34M2024.9 952.5h34m-17 -17v34M2025.3 955.4h34m-17 -17v34M2025.7 1094.4h34m-17 -17v34M2026.1 1091.0h34m-17 -17v34M2026.5 892.6h34m-17 -17v34M2026.8 878.9h34m-17 -17v34M2027.2 1021.4h34m-17 -17v34M2027.6 894.8h34m-17 -17v34M2028.0 952.8h34m-17 -17v34M2028.3 1038.9h34m-17 -17v34M2028.7 958.5h34m-17 -17v34M2029.1 941.9h34m-17 -17v34M2029.5 996.3h34m-17 -17v34M2029.8 1046.9h34m-17 -17v34M2030.2 899.2h34m-17 -17v34M2030.6 896.0h34m-17 -17v34M2031.0 945.9h34m-17 -17v34M2031.3 1064.9h34m-17 -17v34M2031.7 1024.7h34m-17 -17v34M2032.1 1153.1h34m-17 -17v34M2032.4 918.0h34m-17 -17v34M2032.8 1095.0h34m-17 -17v34M2033.2 950.4h34m-17 -17v34M2033.6 931.8h34m-17 -17v34M2033.9 1023.8h34m-17 -17v34M2034.3 1002.1h34m-17 -17v34M2034.7 947.5h34m-17 -17v34M2035.0 1060.0h34m-17 -17v34M2035.4 1023.2h34m-17 -17v34M2035.8 1213.8h34m-17 -17v34M2036.1 932.8h34m-17 -17v34M2036.5 1078.7h34m-17 -17v34M2036.9 941.3h34m-17 -17v34M2037.2 931.1h34m-17 -17v34M2037.6 1032.7h34m-17 -17v34M2037.9 971.8h34m-17 -17v34M2038.3 980.9h34m-17 -17v34M2038.7 1061.2h34m-17 -17v34M2039.0 1046.8h34m-17 -17v34M2039.4 882.9h34m-17 -17v34M2039.7 1057.0h34m-17 -17v34M2040.1 973.3h34m-17 -17v34M2040.5 1040.9h34m-17 -17v34M2040.8 898.2h34m-17 -17v34M2041.2 895.3h34m-17 -17v34M2041.5 1111.4h34m-17 -17v34M2041.9 966.2h34m-17 -17v34M2042.3 1001.1h34m-17 -17v34M2042.6 936.4h34m-17 -17v34M2043.0 928.4h34m-17 -17v34M2043.3 1086.8h34m-17 -17v34M2043.7 957.0h34m-17 -17v34M2044.0 945.2h34m-17 -17v34M2044.4 967.0h34m-17 -17v34M2044.7 946.8h34m-17 -17v34M2045.1 962.2h34m-17 -17v34M2045.4 1229.5h34m-17 -17v34M2045.8 1266.1h34m-17 -17v34M2046.2 1071.4h34m-17 -17v34M2046.5 1107.7h34m-17 -17v34M2046.9 1006.5h34m-17 -17v34M2047.2 972.1h34m-17 -17v34M2047.6 934.8h34m-17 -17v34M2047.9 1188.5h34m-17 -17v34M2048.3 1027.5h34m-17 -17v34M2048.6 916.7h34m-17 -17v34M2049.0 1057.6h34m-17 -17v34M2049.3 1040.0h34m-17 -17v34M2049.6 985.1h34m-17 -17v34M2050.0 1045.8h34m-17 -17v34M2050.3 1065.1h34m-17 -17v34M2050.7 1132.5h34m-17 -17v34M2051.0 931.1h34m-17 -17v34M2051.4 1186.7h34m-17 -17v34M2051.7 980.0h34m-17 -17v34M2052.1 1003.5h34m-17 -17v34M2052.4 1020.2h34m-17 -17v34M2052.7 868.5h34m-17 -17v34M2053.1 1071.6h34m-17 -17v34M2053.4 944.6h34m-17 -17v34M2053.8 1034.2h34m-17 -17v34M2054.1 863.2h34m-17 -17v34M2054.5 999.0h34m-17 -17v34M2054.8 1046.7h34m-17 -17v34M2055.1 983.7h34m-17 -17v34M2055.5 985.7h34m-17 -17v34M2055.8 1228.5h34m-17 -17v34M2056.2 962.2h34m-17 -17v34M2056.5 1083.3h34m-17 -17v34M2056.8 971.0h34m-17 -17v34M2057.2 1022.6h34m-17 -17v34M2057.5 980.5h34m-17 -17v34M2057.8 933.2h34m-17 -17v34M2058.2 1036.0h34m-17 -17v34M2058.5 1001.6h34m-17 -17v34M2058.9 1081.9h34m-17 -17v34M2059.2 985.3h34m-17 -17v34M2059.5 1133.3h34m-17 -17v34M2059.9 1066.3h34m-17 -17v34M2060.2 1019.9h34m-17 -17v34M2060.5 899.0h34m-17 -17v34M2060.9 923.3h34m-17 -17v34M2061.2 1048.4h34m-17 -17v34M2061.5 1101.3h34m-17 -17v34M2061.8 1083.2h34m-17 -17v34M2062.2 1117.4h34m-17 -17v34M2062.5 992.4h34m-17 -17v34M2062.8 1085.1h34m-17 -17v34M2063.2 965.8h34m-17 -17v34M2063.5 878.7h34m-17 -17v34M2063.8 902.9h34m-17 -17v34M2064.2 927.6h34m-17 -17v34M2064.5 1035.9h34m-17 -17v34M2064.8 984.8h34m-17 -17v34M2065.1 943.8h34m-17 -17v34M2065.5 893.2h34m-17 -17v34M2065.8 995.1h34m-17 -17v34M2066.1 860.4h34m-17 -17v34M2066.4 935.6h34m-17 -17v34M2066.8 1045.6h34m-17 -17v34M2067.1 925.2h34m-17 -17v34M2067.4 1126.0h34m-17 -17v34M2067.7 1172.5h34m-17 -17v34M2068.1 995.2h34m-17 -17v34M2068.4 1014.8h34m-17 -17v34M2068.7 876.4h34m-17 -17v34M2069.0 1093.2h34m-17 -17v34M2069.4 1112.5h34m-17 -17v34M2069.7 1052.5h34m-17 -17v34M2070.0 1071.1h34m-17 -17v34M2070.3 1032.5h34m-17 -17v34M2070.6 943.4h34m-17 -17v34M2071.0 1012.6h34m-17 -17v34M2071.3 918.9h34m-17 -17v34M2071.6 931.4h34m-17 -17v34M2071.9 982.3h34m-17 -17v34M2072.2 929.6h34m-17 -17v34M2072.6 1328.7h34m-17 -17v34M2072.9 1132.1h34m-17 -17v34M2073.2 966.2h34m-17 -17v34M2073.5 1000.3h34m-17 -17v34M2073.8 963.0h34m-17 -17v34M2074.2 903.9h34m-17 -17v34M2074.5 925.2h34m-17 -17v34M2074.8 894.7h34m-17 -17v34M2075.1 955.7h34m-17 -17v34M2075.4 1046.3h34m-17 -17v34M2075.7 967.3h34m-17 -17v34M2076.0 992.6h34m-17 -17v34M2076.4 1036.3h34m-17 -17v34M2076.7 999.2h34m-17 -17v34M2077.0 936.2h34m-17 -17v34M2077.3 1102.3h34m-17 -17v34M2077.6 940.2h34m-17 -17v34M2077.9 1061.1h34m-17 -17v34M2078.2 925.9h34m-17 -17v34M2078.5 1149.6h34m-17 -17v34M2078.9 1053.3h34m-17 -17v34M2079.2 1065.8h34m-17 -17v34M2079.5 1048.1h34m-17 -17v34M2079.8 977.9h34m-17 -17v34M2080.1 979.3h34m-17 -17v34M2080.4 1151.6h34m-17 -17v34M2080.7 1044.3h34m-17 -17v34M2081.0 1156.2h34m-17 -17v34M2081.3 933.2h34m-17 -17v34M2081.6 932.1h34m-17 -17v34M2081.9 1219.5h34m-17 -17v34M2082.2 951.1h34m-17 -17v34M2082.6 1062.9h34m-17 -17v34M2082.9 1157.6h34m-17 -17v34M2083.2 988.6h34m-17 -17v34M2083.5 919.8h34m-17 -17v34M2083.8 986.9h34m-17 -17v34M2084.1 1011.4h34m-17 -17v34M2084.4 877.5h34m-17 -17v34M2084.7 1049.5h34m-17 -17v34M2085.0 1083.5h34m-17 -17v34M2085.3 1004.5h34m-17 -17v34M2085.6 899.5h34m-17 -17v34M2085.9 973.5h34m-17 -17v34M2086.2 1007.3h34m-17 -17v34M2086.5 1080.9h34m-17 -17v34M2086.8 962.6h34m-17 -17v34M2087.1 965.0h34m-17 -17v34M2087.4 1135.0h34m-17 -17v34M2087.7 1105.1h34m-17 -17v34M2088.0 1010.2h34m-17 -17v34M2088.3 1000.9h34m-17 -17v34M2088.6 947.0h34m-17 -17v34M2088.9 946.9h34m-17 -17v34M2089.2 1003.1h34m-17 -17v34M2089.5 976.7h34m-17 -17v34M2089.8 946.5h34m-17 -17v34M2090.1 1092.7h34m-17 -17v34M2090.4 1114.1h34m-17 -17v34M2090.7 932.2h34m-17 -17v34M2091.0 1065.5h34m-17 -17v34M2091.3 1089.6h34m-17 -17v34M2091.6 1067.0h34m-17 -17v34M2091.9 935.0h34m-17 -17v34M2092.2 983.4h34m-17 -17v34M2092.5 1019.7h34m-17 -17v34M2092.8 1009.3h34m-17 -17v34M2093.1 1128.9h34m-17 -17v34M2093.4 968.4h34m-17 -17v34M2093.7 1016.5h34m-17 -17v34M2094.0 1057.7h34m-17 -17v34M2094.2 1055.1h34m-17 -17v34M2094.5 968.7h34m-17 -17v34M2094.8 975.7h34m-17 -17v34M2095.1 987.7h34m-17 -17v34M2095.4 984.7h34m-17 -17v34M2095.7 967.1h34m-17 -17v34M2096.0 910.2h34m-17 -17v34M2096.3 918.1h34m-17 -17v34M2096.6 909.3h34m-17 -17v34M2096.9 1016.9h34m-17 -17v34M2097.2 984.6h34m-17 -17v34M2097.5 1009.4h34m-17 -17v34M2097.7 954.1h34m-17 -17v34M2098.0 999.7h34m-17 -17v34M2098.3 933.2h34m-17 -17v34M2098.6 949.6h34m-17 -17v34M2098.9 1153.9h34m-17 -17v34M2099.2 1075.3h34m-17 -17v34M2099.5 1175.4h34m-17 -17v34M2099.8 1141.1h34m-17 -17v34M2100.0 942.9h34m-17 -17v34M2100.3 932.8h34m-17 -17v34M2100.6 980.3h34m-17 -17v34M2100.9 935.6h34m-17 -17v34M2101.2 1010.3h34m-17 -17v34M2101.5 957.2h34m-17 -17v34M2101.8 1145.5h34m-17 -17v34" stroke="#60d414" stroke-width="6.5" fill="none"/>
<rect x="288.0" y="93.7" width="1831.0" height="1443.6" fill="none" stroke="#262626" stroke-width="2.5"/>
<text x="265" y="1567.3" font-family="'Liberation Sans', Arial, sans-serif" font-size="56.7" fill="#262626" text-anchor="end">10<tspan font-size="44.7" dy="-27.8">8</tspan></text>
<text x="265" y="1278.6" font-family="'Liberation Sans', Arial, sans-serif" font-size="56.7" fill="#262626" text-anchor="end">10<tspan font-size="44.7" dy="-27.8">10</tspan></text>
<text x="265" y="989.9" font-family="'Liberation Sans', Arial, sans-serif" font-size="56.7" fill="#262626" text-anchor="end">10<tspan font-size="44.7" dy="-27.8">12</tspan></text>
<text x="265" y="701.1" font-family="'Liberation Sans', Arial, sans-serif" font-size="56.7" fill="#262626" text-anchor="end">10<tspan font-size="44.7" dy="-27.8">14</tspan></text>
<text x="265" y="412.4" font-family="'Liberation Sans', Arial, sans-serif" font-size="56.7" fill="#262626" text-anchor="end">10<tspan font-size="44.7" dy="-27.8">16</tspan></text>
<text x="265" y="123.7" font-family="'Liberation Sans', Arial, sans-serif" font-size="56.7" fill="#262626" text-anchor="end">10<tspan font-size="44.7" dy="-27.8">18</tspan></text>
<text x="288.0" y="1633" font-family="'Liberation Sans', Arial, sans-serif" font-size="56.7" fill="#262626" text-anchor="middle">10<tspan font-size="44.7" dy="-27.5">-2</tspan></text>
<text x="898.3" y="1633" font-family="'Liberation Sans', Arial, sans-serif" font-size="56.7" fill="#262626" text-anchor="middle">10<tspan font-size="44.7" dy="-27.5">-1</tspan></text>
<text x="1508.7" y="1633" font-family="'Liberation Sans', Arial, sans-serif" font-size="56.7" fill="#262626" text-anchor="middle">10<tspan font-size="44.7" dy="-27.5">0</tspan></text>
<text x="2119.0" y="1633" font-family="'Liberation Sans', Arial, sans-serif" font-size="56.7" fill="#262626" text-anchor="middle">10<tspan font-size="44.7" dy="-27.5">1</tspan></text>
<text x="1195.8" y="1715" font-family="'Liberation Sans', Arial, sans-serif" font-size="62" fill="#262626" text-anchor="middle"><tspan font-style="italic">k</tspan> (rad/km)</text>
<text transform="translate(93.7 832.1) rotate(-90)" x="0" y="0" font-family="'Liberation Sans', Arial, sans-serif" font-size="62" fill="#262626" text-anchor="middle">|N<tspan font-size="49.6" dy="30">e</tspan><tspan dy="-30">(</tspan><tspan font-style="italic">k</tspan>)|<tspan font-size="49.6" dy="-30">2</tspan></text>
<text x="1204" y="76.7" font-family="'Liberation Sans', Arial, sans-serif" font-size="62" font-weight="bold" fill="#000" text-anchor="middle">Wavenumber Spectrum Comparision</text>
<rect x="734" y="137.6" width="1342" height="222.2" fill="#fff" stroke="#1a1a1a" stroke-width="2.9"/>
<path d="M751 179.2H919.6" stroke="#ff0000" stroke-width="16" fill="none"/>
<path d="M751 248.6H919.6" stroke="#0000ff" stroke-width="3.4" fill="none"/>
<path d="M823 236.6l24 24M823 260.6l24 -24" stroke="#0000ff" stroke-width="3.4" fill="none"/>
<path d="M751 318.3H919.6" stroke="#60d414" stroke-width="6.3" fill="none"/>
<path d="M835 301.5v33.6M818.2 318.3h33.6" stroke="#60d414" stroke-width="6.3" fill="none"/>
<text x="931" y="200.2" font-family="'Liberation Sans', Arial, sans-serif" font-size="50.75" fill="#000">SR Modelled Ne</text>
<text x="931" y="269.3" font-family="'Liberation Sans', Arial, sans-serif" font-size="50.75" fill="#000">Measured Ne using all 17 GPS SVs</text>
<text x="931" y="337.9" font-family="'Liberation Sans', Arial, sans-serif" font-size="50.75" fill="#000">Measured Ne with 17 GPS SVs and 8 Galileo SVs</text>
<text x="650" y="1055.8" font-family="'Liberation Sans', Arial, sans-serif" font-size="78.85" fill="#000">plasma bubbles</text>
<path d="M939.5 945L957.3 826.8" stroke="#000" stroke-width="3.2" fill="none"/>
<path d="M963.7 786.4L934 839.3L957.3 826.8L976.2 847.7Z" fill="#000"/>
</svg>
</body></html>
